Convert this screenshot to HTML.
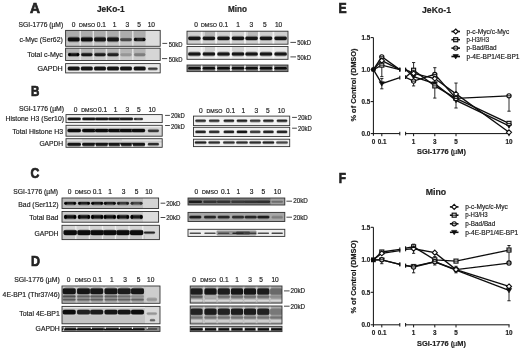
<!DOCTYPE html>
<html><head><meta charset="utf-8"><style>
html,body{margin:0;padding:0;background:#fff;width:520px;height:349px;overflow:hidden;}
svg{display:block;font-family:"Liberation Sans",sans-serif;}
</style></head><body>
<svg width="520" height="349" viewBox="0 0 520 349" font-family="Liberation Sans, sans-serif">
<defs>
<filter id="b04" x="-10%" y="-50%" width="120%" height="200%"><feGaussianBlur stdDeviation="0.4"/></filter>
<filter id="b05" x="-10%" y="-50%" width="120%" height="200%"><feGaussianBlur stdDeviation="0.5"/></filter>
<filter id="b06" x="-10%" y="-50%" width="120%" height="200%"><feGaussianBlur stdDeviation="0.6"/></filter>
<filter id="b07" x="-10%" y="-50%" width="120%" height="200%"><feGaussianBlur stdDeviation="0.7"/></filter>
<filter id="b08" x="-10%" y="-50%" width="120%" height="200%"><feGaussianBlur stdDeviation="0.8"/></filter>
<filter id="b10" x="-10%" y="-50%" width="120%" height="200%"><feGaussianBlur stdDeviation="1.0"/></filter>
<filter id="tb" x="0" y="0" width="520" height="349" filterUnits="userSpaceOnUse"><feGaussianBlur stdDeviation="0.15"/></filter>
<filter id="gb" x="0" y="0" width="520" height="349" filterUnits="userSpaceOnUse"><feGaussianBlur stdDeviation="0.3"/></filter>
</defs>
<rect width="520" height="349" fill="#fff"/>
<g filter="url(#gb)">
<rect x="65.6" y="30.4" width="94.6" height="15.899999999999999" fill="#b6b6b6"/>
<svg x="65.6" y="30.4" width="94.6" height="15.899999999999999" overflow="hidden"><g transform="translate(-65.6,-30.4)" filter="url(#b07)">
<rect x="63.599999999999994" y="28.4" width="98.6" height="19.9" fill="#b6b6b6"/>
<rect x="60" y="28" width="86" height="9" fill="#acacac"/><rect x="60" y="41" width="86" height="7" fill="#c4c4c4"/><rect x="145.6" y="28" width="16" height="20" fill="#dcdcdc"/>
<rect x="79.50" y="28.4" width="1.4" height="19.9" fill="#e4e4e4"/>
<rect x="92.60" y="28.4" width="1.4" height="19.9" fill="#e4e4e4"/>
<rect x="105.70" y="28.4" width="1.4" height="19.9" fill="#e4e4e4"/>
<rect x="118.80" y="28.4" width="1.4" height="19.9" fill="#e4e4e4"/>
<rect x="132.10" y="28.4" width="1.4" height="19.9" fill="#e4e4e4"/>
<rect x="67.60" y="36.60" width="12.20" height="5.60" rx="2.80" fill="#7e7e7e"/><rect x="67.90" y="37.50" width="11.60" height="3.80" rx="1.30" fill="#0f0f0f"/>
<rect x="80.70" y="36.60" width="12.20" height="5.60" rx="2.80" fill="#7e7e7e"/><rect x="81.00" y="37.50" width="11.60" height="3.80" rx="1.30" fill="#0f0f0f"/>
<rect x="93.90" y="36.60" width="12.20" height="5.60" rx="2.80" fill="#7f7f7f"/><rect x="94.20" y="37.50" width="11.60" height="3.80" rx="1.30" fill="#121212"/>
<rect x="106.90" y="36.60" width="12.20" height="5.60" rx="2.80" fill="#808080"/><rect x="107.20" y="37.50" width="11.60" height="3.80" rx="1.30" fill="#161616"/>
<rect x="120.00" y="37.40" width="12.00" height="4.40" rx="2.20" fill="#909090"/><rect x="120.30" y="38.30" width="11.40" height="2.60" rx="1.30" fill="#464646"/>
<rect x="133.70" y="37.00" width="12.00" height="4.80" rx="2.40" fill="#868686"/><rect x="134.00" y="37.90" width="11.40" height="3.00" rx="1.30" fill="#282828"/><ellipse cx="135.50" cy="39.40" rx="1.3" ry="1.70" fill="#0a0a0a"/><ellipse cx="143.90" cy="39.40" rx="1.3" ry="1.70" fill="#0a0a0a"/>
</g></svg>
<rect x="65.6" y="30.4" width="94.6" height="15.899999999999999" fill="none" stroke="#333" stroke-width="0.9"/>
<rect x="65.6" y="48.2" width="94.6" height="12.299999999999997" fill="#c8c8c8"/>
<svg x="65.6" y="48.2" width="94.6" height="12.299999999999997" overflow="hidden"><g transform="translate(-65.6,-48.2)" filter="url(#b07)">
<rect x="63.599999999999994" y="46.2" width="98.6" height="16.299999999999997" fill="#c8c8c8"/>
<rect x="60" y="46" width="86" height="7" fill="#b4b4b4"/><rect x="145.6" y="46" width="16" height="16" fill="#d6d6d6"/>
<rect x="79.50" y="46.2" width="1.4" height="16.299999999999997" fill="#e4e4e4"/>
<rect x="92.60" y="46.2" width="1.4" height="16.299999999999997" fill="#e4e4e4"/>
<rect x="105.70" y="46.2" width="1.4" height="16.299999999999997" fill="#e4e4e4"/>
<rect x="118.80" y="46.2" width="1.4" height="16.299999999999997" fill="#e4e4e4"/>
<rect x="132.10" y="46.2" width="1.4" height="16.299999999999997" fill="#e4e4e4"/>
<rect x="67.80" y="52.30" width="11.80" height="4.60" rx="2.30" fill="#8d8d8d"/><rect x="68.10" y="53.20" width="11.20" height="2.80" rx="1.30" fill="#191919"/><ellipse cx="69.60" cy="54.60" rx="1.3" ry="1.60" fill="#000000"/><ellipse cx="77.80" cy="54.60" rx="1.3" ry="1.60" fill="#000000"/>
<rect x="80.90" y="52.30" width="11.80" height="4.60" rx="2.30" fill="#8d8d8d"/><rect x="81.20" y="53.20" width="11.20" height="2.80" rx="1.30" fill="#191919"/>
<rect x="94.10" y="52.30" width="11.80" height="4.60" rx="2.30" fill="#8e8e8e"/><rect x="94.40" y="53.20" width="11.20" height="2.80" rx="1.30" fill="#1c1c1c"/>
<rect x="107.10" y="52.30" width="11.80" height="4.60" rx="2.30" fill="#909090"/><rect x="107.40" y="53.20" width="11.20" height="2.80" rx="1.30" fill="#202020"/>
<rect x="120.10" y="52.30" width="11.80" height="4.60" rx="2.30" fill="#b7b7b7"/><rect x="120.40" y="53.20" width="11.20" height="2.80" rx="1.30" fill="#969696"/>
<rect x="133.80" y="52.30" width="11.80" height="4.60" rx="2.30" fill="#afafaf"/><rect x="134.10" y="53.20" width="11.20" height="2.80" rx="1.30" fill="#7d7d7d"/>
</g></svg>
<rect x="65.6" y="48.2" width="94.6" height="12.299999999999997" fill="none" stroke="#333" stroke-width="0.9"/>
<rect x="65.6" y="63.6" width="94.6" height="9.300000000000004" fill="#e8e8e8"/>
<svg x="65.6" y="63.6" width="94.6" height="9.300000000000004" overflow="hidden"><g transform="translate(-65.6,-63.6)" filter="url(#b07)">
<rect x="63.599999999999994" y="61.6" width="98.6" height="13.300000000000004" fill="#e8e8e8"/>
<rect x="67.50" y="65.90" width="12.40" height="5.20" rx="2.60" fill="#a3a3a3"/><rect x="67.80" y="66.80" width="11.80" height="3.40" rx="1.30" fill="#191919"/>
<rect x="80.60" y="65.90" width="12.40" height="5.20" rx="2.60" fill="#a3a3a3"/><rect x="80.90" y="66.80" width="11.80" height="3.40" rx="1.30" fill="#191919"/>
<rect x="93.80" y="65.90" width="12.40" height="5.20" rx="2.60" fill="#a3a3a3"/><rect x="94.10" y="66.80" width="11.80" height="3.40" rx="1.30" fill="#191919"/>
<rect x="106.80" y="65.90" width="12.40" height="5.20" rx="2.60" fill="#a3a3a3"/><rect x="107.10" y="66.80" width="11.80" height="3.40" rx="1.30" fill="#191919"/>
<rect x="119.80" y="65.90" width="12.40" height="5.20" rx="2.60" fill="#a3a3a3"/><rect x="120.10" y="66.80" width="11.80" height="3.40" rx="1.30" fill="#191919"/>
<rect x="133.50" y="65.90" width="12.40" height="5.20" rx="2.60" fill="#a3a3a3"/><rect x="133.80" y="66.80" width="11.80" height="3.40" rx="1.30" fill="#191919"/>
<rect x="147.75" y="66.90" width="10.10" height="3.80" rx="1.90" fill="#aeaeae"/><rect x="148.05" y="67.80" width="9.50" height="2.00" rx="1.00" fill="#3c3c3c"/>
</g></svg>
<rect x="65.6" y="63.6" width="94.6" height="9.300000000000004" fill="none" stroke="#333" stroke-width="0.9"/>
<line x1="162.4" y1="43.4" x2="167.2" y2="43.4" stroke="#333" stroke-width="0.9"/>
<line x1="162.0" y1="58.6" x2="167.2" y2="58.6" stroke="#333" stroke-width="0.9"/>
<rect x="187.0" y="31.2" width="101.0" height="13.000000000000004" fill="#d0d0d0"/>
<svg x="187.0" y="31.2" width="101.0" height="13.000000000000004" overflow="hidden"><g transform="translate(-187.0,-31.2)" filter="url(#b07)">
<rect x="185.0" y="29.2" width="105.0" height="17.000000000000004" fill="#d0d0d0"/>
<rect x="205" y="30" width="10" height="6" fill="#b4b4b4"/><rect x="248" y="30" width="10" height="7" fill="#bababa"/>
<rect x="200.80" y="29.2" width="1.8" height="17.000000000000004" fill="#f2f2f2"/>
<rect x="215.20" y="29.2" width="1.8" height="17.000000000000004" fill="#f2f2f2"/>
<rect x="230.00" y="29.2" width="1.8" height="17.000000000000004" fill="#f2f2f2"/>
<rect x="244.10" y="29.2" width="1.8" height="17.000000000000004" fill="#f2f2f2"/>
<rect x="258.00" y="29.2" width="1.8" height="17.000000000000004" fill="#f2f2f2"/>
<rect x="272.50" y="29.2" width="1.8" height="17.000000000000004" fill="#f2f2f2"/>
<rect x="188.00" y="35.80" width="12.80" height="5.00" rx="2.50" fill="#909090"/><rect x="188.30" y="36.70" width="12.20" height="3.20" rx="1.30" fill="#121212"/>
<rect x="202.50" y="35.80" width="12.80" height="5.00" rx="2.50" fill="#909090"/><rect x="202.80" y="36.70" width="12.20" height="3.20" rx="1.30" fill="#121212"/>
<rect x="217.10" y="35.80" width="12.80" height="5.00" rx="2.50" fill="#909090"/><rect x="217.40" y="36.70" width="12.20" height="3.20" rx="1.30" fill="#121212"/>
<rect x="231.60" y="35.80" width="12.80" height="5.00" rx="2.50" fill="#909090"/><rect x="231.90" y="36.70" width="12.20" height="3.20" rx="1.30" fill="#121212"/>
<rect x="245.20" y="35.80" width="12.80" height="5.00" rx="2.50" fill="#909090"/><rect x="245.50" y="36.70" width="12.20" height="3.20" rx="1.30" fill="#121212"/>
<rect x="259.60" y="35.80" width="12.80" height="5.00" rx="2.50" fill="#909090"/><rect x="259.90" y="36.70" width="12.20" height="3.20" rx="1.30" fill="#121212"/>
<rect x="274.20" y="35.80" width="12.80" height="5.00" rx="2.50" fill="#909090"/><rect x="274.50" y="36.70" width="12.20" height="3.20" rx="1.30" fill="#121212"/>
</g></svg>
<rect x="187.0" y="31.2" width="101.0" height="13.000000000000004" fill="none" stroke="#333" stroke-width="0.9"/>
<rect x="187.0" y="46.5" width="101.0" height="12.799999999999997" fill="#e8e8e8"/>
<svg x="187.0" y="46.5" width="101.0" height="12.799999999999997" overflow="hidden"><g transform="translate(-187.0,-46.5)" filter="url(#b07)">
<rect x="185.0" y="44.5" width="105.0" height="16.799999999999997" fill="#e8e8e8"/>
<rect x="205" y="46" width="10" height="5" fill="#d0d0d0"/><rect x="232" y="46" width="12" height="5" fill="#d4d4d4"/>
<rect x="200.80" y="44.5" width="1.8" height="16.799999999999997" fill="#f6f6f6"/>
<rect x="215.20" y="44.5" width="1.8" height="16.799999999999997" fill="#f6f6f6"/>
<rect x="230.00" y="44.5" width="1.8" height="16.799999999999997" fill="#f6f6f6"/>
<rect x="244.10" y="44.5" width="1.8" height="16.799999999999997" fill="#f6f6f6"/>
<rect x="258.00" y="44.5" width="1.8" height="16.799999999999997" fill="#f6f6f6"/>
<rect x="272.50" y="44.5" width="1.8" height="16.799999999999997" fill="#f6f6f6"/>
<rect x="188.00" y="51.50" width="12.80" height="5.00" rx="2.50" fill="#a0a0a0"/><rect x="188.30" y="52.40" width="12.20" height="3.20" rx="1.30" fill="#121212"/>
<rect x="202.50" y="51.50" width="12.80" height="5.00" rx="2.50" fill="#a0a0a0"/><rect x="202.80" y="52.40" width="12.20" height="3.20" rx="1.30" fill="#121212"/>
<rect x="217.10" y="51.50" width="12.80" height="5.00" rx="2.50" fill="#a0a0a0"/><rect x="217.40" y="52.40" width="12.20" height="3.20" rx="1.30" fill="#121212"/>
<rect x="231.60" y="51.50" width="12.80" height="5.00" rx="2.50" fill="#a0a0a0"/><rect x="231.90" y="52.40" width="12.20" height="3.20" rx="1.30" fill="#121212"/>
<rect x="245.20" y="51.50" width="12.80" height="5.00" rx="2.50" fill="#a0a0a0"/><rect x="245.50" y="52.40" width="12.20" height="3.20" rx="1.30" fill="#121212"/>
<rect x="259.60" y="51.50" width="12.80" height="5.00" rx="2.50" fill="#a0a0a0"/><rect x="259.90" y="52.40" width="12.20" height="3.20" rx="1.30" fill="#121212"/>
<rect x="274.20" y="51.50" width="12.80" height="5.00" rx="2.50" fill="#a0a0a0"/><rect x="274.50" y="52.40" width="12.20" height="3.20" rx="1.30" fill="#121212"/>
</g></svg>
<rect x="187.0" y="46.5" width="101.0" height="12.799999999999997" fill="none" stroke="#333" stroke-width="0.9"/>
<rect x="187.0" y="65.0" width="101.0" height="6.599999999999994" fill="#7d7d7d"/>
<svg x="187.0" y="65.0" width="101.0" height="6.599999999999994" overflow="hidden"><g transform="translate(-187.0,-65.0)" filter="url(#b07)">
<rect x="185.0" y="63.0" width="105.0" height="10.599999999999994" fill="#7d7d7d"/>
<rect x="200.90" y="63.0" width="1.6" height="10.599999999999994" fill="#f5f5f5"/>
<rect x="215.30" y="63.0" width="1.6" height="10.599999999999994" fill="#f5f5f5"/>
<rect x="230.10" y="63.0" width="1.6" height="10.599999999999994" fill="#f5f5f5"/>
<rect x="244.20" y="63.0" width="1.6" height="10.599999999999994" fill="#f5f5f5"/>
<rect x="258.10" y="63.0" width="1.6" height="10.599999999999994" fill="#f5f5f5"/>
<rect x="272.60" y="63.0" width="1.6" height="10.599999999999994" fill="#f5f5f5"/>
<rect x="188.15" y="67.00" width="12.50" height="2.60" rx="1.30" fill="#0f0f0f"/>
<rect x="202.65" y="67.00" width="12.50" height="2.60" rx="1.30" fill="#0f0f0f"/>
<rect x="217.25" y="67.00" width="12.50" height="2.60" rx="1.30" fill="#0f0f0f"/>
<rect x="231.75" y="67.00" width="12.50" height="2.60" rx="1.30" fill="#0f0f0f"/>
<rect x="245.35" y="67.00" width="12.50" height="2.60" rx="1.30" fill="#0f0f0f"/>
<rect x="259.75" y="67.00" width="12.50" height="2.60" rx="1.30" fill="#0f0f0f"/>
<rect x="274.35" y="67.00" width="12.50" height="2.60" rx="1.30" fill="#0f0f0f"/>
</g></svg>
<rect x="187.0" y="65.0" width="101.0" height="6.599999999999994" fill="none" stroke="#333" stroke-width="0.9"/>
<line x1="290.4" y1="42.4" x2="296.0" y2="42.4" stroke="#333" stroke-width="0.9"/>
<line x1="290.4" y1="56.9" x2="296.0" y2="56.9" stroke="#333" stroke-width="0.9"/>
<rect x="66.0" y="114.6" width="96.19999999999999" height="8.0" fill="#f0f0f0"/>
<svg x="66.0" y="114.6" width="96.19999999999999" height="8.0" overflow="hidden"><g transform="translate(-66.0,-114.6)" filter="url(#b07)">
<rect x="64.0" y="112.6" width="100.19999999999999" height="12.0" fill="#f0f0f0"/>
<rect x="67.30" y="116.90" width="13.80" height="4.00" rx="2.00" fill="#a8a8a8"/><rect x="67.60" y="117.80" width="13.20" height="2.20" rx="1.10" fill="#191919"/>
<rect x="82.00" y="116.90" width="13.80" height="4.00" rx="2.00" fill="#a8a8a8"/><rect x="82.30" y="117.80" width="13.20" height="2.20" rx="1.10" fill="#191919"/>
<rect x="94.80" y="116.90" width="13.80" height="4.00" rx="2.00" fill="#a8a8a8"/><rect x="95.10" y="117.80" width="13.20" height="2.20" rx="1.10" fill="#191919"/>
<rect x="107.90" y="116.90" width="13.80" height="4.00" rx="2.00" fill="#a8a8a8"/><rect x="108.20" y="117.80" width="13.20" height="2.20" rx="1.10" fill="#191919"/>
<rect x="119.50" y="116.90" width="13.80" height="4.00" rx="2.00" fill="#aaaaaa"/><rect x="119.80" y="117.80" width="13.20" height="2.20" rx="1.10" fill="#1e1e1e"/>
<rect x="133.60" y="117.20" width="9.60" height="3.60" rx="1.80" fill="#bababa"/><rect x="133.90" y="118.10" width="9.00" height="1.80" rx="0.90" fill="#505050"/><ellipse cx="135.40" cy="119.00" rx="1.3" ry="1.10" fill="#323232"/><ellipse cx="141.40" cy="119.00" rx="1.3" ry="1.10" fill="#323232"/>
</g></svg>
<rect x="66.0" y="114.6" width="96.19999999999999" height="8.0" fill="none" stroke="#333" stroke-width="0.9"/>
<rect x="66.0" y="125.3" width="96.19999999999999" height="10.899999999999991" fill="#d4d4d4"/>
<svg x="66.0" y="125.3" width="96.19999999999999" height="10.899999999999991" overflow="hidden"><g transform="translate(-66.0,-125.3)" filter="url(#b07)">
<rect x="64.0" y="123.3" width="100.19999999999999" height="14.899999999999991" fill="#d4d4d4"/>
<rect x="60" y="124" width="110" height="3.2" fill="#eeeeee"/>
<rect x="67.20" y="128.20" width="14.00" height="4.80" rx="2.40" fill="#929292"/><rect x="67.50" y="129.10" width="13.40" height="3.00" rx="1.30" fill="#0f0f0f"/>
<rect x="81.90" y="128.20" width="14.00" height="4.80" rx="2.40" fill="#929292"/><rect x="82.20" y="129.10" width="13.40" height="3.00" rx="1.30" fill="#0f0f0f"/>
<rect x="94.70" y="128.20" width="14.00" height="4.80" rx="2.40" fill="#929292"/><rect x="95.00" y="129.10" width="13.40" height="3.00" rx="1.30" fill="#0f0f0f"/>
<rect x="107.80" y="128.20" width="14.00" height="4.80" rx="2.40" fill="#929292"/><rect x="108.10" y="129.10" width="13.40" height="3.00" rx="1.30" fill="#0f0f0f"/>
<rect x="119.40" y="128.20" width="14.00" height="4.80" rx="2.40" fill="#929292"/><rect x="119.70" y="129.10" width="13.40" height="3.00" rx="1.30" fill="#0f0f0f"/>
<rect x="131.40" y="128.20" width="14.00" height="4.80" rx="2.40" fill="#929292"/><rect x="131.70" y="129.10" width="13.40" height="3.00" rx="1.30" fill="#0f0f0f"/>
<rect x="147.60" y="128.80" width="11.60" height="4.00" rx="2.00" fill="#9f9f9f"/><rect x="147.90" y="129.70" width="11.00" height="2.20" rx="1.10" fill="#373737"/>
</g></svg>
<rect x="66.0" y="125.3" width="96.19999999999999" height="10.899999999999991" fill="none" stroke="#333" stroke-width="0.9"/>
<rect x="66.0" y="138.7" width="96.19999999999999" height="8.600000000000023" fill="#e1e1e1"/>
<svg x="66.0" y="138.7" width="96.19999999999999" height="8.600000000000023" overflow="hidden"><g transform="translate(-66.0,-138.7)" filter="url(#b07)">
<rect x="64.0" y="136.7" width="100.19999999999999" height="12.600000000000023" fill="#e1e1e1"/>
<rect x="60" y="141" width="110" height="1.6" fill="#cdcdcd"/><rect x="82" y="139" width="40" height="3" fill="#d0d0d0"/>
<rect x="67.20" y="142.10" width="14.00" height="4.60" rx="2.30" fill="#9c9c9c"/><rect x="67.50" y="143.00" width="13.40" height="2.80" rx="1.30" fill="#141414"/>
<rect x="81.90" y="142.10" width="14.00" height="4.60" rx="2.30" fill="#9c9c9c"/><rect x="82.20" y="143.00" width="13.40" height="2.80" rx="1.30" fill="#141414"/>
<rect x="94.70" y="142.10" width="14.00" height="4.60" rx="2.30" fill="#9c9c9c"/><rect x="95.00" y="143.00" width="13.40" height="2.80" rx="1.30" fill="#141414"/>
<rect x="107.80" y="142.10" width="14.00" height="4.60" rx="2.30" fill="#9c9c9c"/><rect x="108.10" y="143.00" width="13.40" height="2.80" rx="1.30" fill="#141414"/>
<rect x="119.40" y="142.10" width="14.00" height="4.60" rx="2.30" fill="#9c9c9c"/><rect x="119.70" y="143.00" width="13.40" height="2.80" rx="1.30" fill="#141414"/>
<rect x="131.40" y="142.10" width="14.00" height="4.60" rx="2.30" fill="#9c9c9c"/><rect x="131.70" y="143.00" width="13.40" height="2.80" rx="1.30" fill="#141414"/>
<rect x="147.60" y="142.20" width="11.60" height="4.00" rx="2.00" fill="#a5a5a5"/><rect x="147.90" y="143.10" width="11.00" height="2.20" rx="1.10" fill="#2d2d2d"/>
<path d="M80.3,148 L81.6,143.5 L82.9,148 Z" fill="#f6f6f6"/><path d="M93.9,148 L95.2,143.5 L96.5,148 Z" fill="#f6f6f6"/><path d="M106.9,148 L108.2,143.5 L109.5,148 Z" fill="#f6f6f6"/><path d="M119.3,148 L120.6,143.5 L121.9,148 Z" fill="#f6f6f6"/><path d="M131.1,148 L132.4,143.5 L133.7,148 Z" fill="#f6f6f6"/><path d="M144.6,148 L145.9,143.5 L147.2,148 Z" fill="#f6f6f6"/>
</g></svg>
<rect x="66.0" y="138.7" width="96.19999999999999" height="8.600000000000023" fill="none" stroke="#333" stroke-width="0.9"/>
<line x1="165.1" y1="115.4" x2="169.9" y2="115.4" stroke="#333" stroke-width="0.9"/>
<line x1="165.1" y1="125.5" x2="169.9" y2="125.5" stroke="#333" stroke-width="0.9"/>
<rect x="193.5" y="116.1" width="96.19999999999999" height="9.5" fill="#f2f2f2"/>
<svg x="193.5" y="116.1" width="96.19999999999999" height="9.5" overflow="hidden"><g transform="translate(-193.5,-116.1)" filter="url(#b07)">
<rect x="191.5" y="114.1" width="100.19999999999999" height="13.5" fill="#f2f2f2"/>
<rect x="195.05" y="118.95" width="11.10" height="3.70" rx="1.85" fill="#b0b0b0"/><rect x="195.35" y="119.85" width="10.50" height="1.90" rx="0.95" fill="#2d2d2d"/>
<rect x="208.65" y="118.95" width="11.10" height="3.70" rx="1.85" fill="#b2b2b2"/><rect x="208.95" y="119.85" width="10.50" height="1.90" rx="0.95" fill="#323232"/>
<rect x="223.35" y="118.95" width="11.10" height="3.70" rx="1.85" fill="#adadad"/><rect x="223.65" y="119.85" width="10.50" height="1.90" rx="0.95" fill="#232323"/>
<rect x="236.45" y="118.95" width="11.10" height="3.70" rx="1.85" fill="#adadad"/><rect x="236.75" y="119.85" width="10.50" height="1.90" rx="0.95" fill="#232323"/>
<rect x="249.65" y="118.95" width="11.10" height="3.70" rx="1.85" fill="#b5b5b5"/><rect x="249.95" y="119.85" width="10.50" height="1.90" rx="0.95" fill="#3c3c3c"/>
<rect x="262.85" y="118.95" width="11.10" height="3.70" rx="1.85" fill="#aeaeae"/><rect x="263.15" y="119.85" width="10.50" height="1.90" rx="0.95" fill="#282828"/>
<rect x="276.45" y="118.95" width="11.10" height="3.70" rx="1.85" fill="#aeaeae"/><rect x="276.75" y="119.85" width="10.50" height="1.90" rx="0.95" fill="#282828"/>
</g></svg>
<rect x="193.5" y="116.1" width="96.19999999999999" height="9.5" fill="none" stroke="#333" stroke-width="0.9"/>
<rect x="193.5" y="127.3" width="96.19999999999999" height="9.200000000000003" fill="#f0f0f0"/>
<svg x="193.5" y="127.3" width="96.19999999999999" height="9.200000000000003" overflow="hidden"><g transform="translate(-193.5,-127.3)" filter="url(#b07)">
<rect x="191.5" y="125.3" width="100.19999999999999" height="13.200000000000003" fill="#f0f0f0"/>
<rect x="195.05" y="129.95" width="11.10" height="3.90" rx="1.95" fill="#adadad"/><rect x="195.35" y="130.85" width="10.50" height="2.10" rx="1.05" fill="#282828"/>
<rect x="208.65" y="129.95" width="11.10" height="3.90" rx="1.95" fill="#b0b0b0"/><rect x="208.95" y="130.85" width="10.50" height="2.10" rx="1.05" fill="#323232"/>
<rect x="223.35" y="129.95" width="11.10" height="3.90" rx="1.95" fill="#ababab"/><rect x="223.65" y="130.85" width="10.50" height="2.10" rx="1.05" fill="#232323"/>
<rect x="236.45" y="129.95" width="11.10" height="3.90" rx="1.95" fill="#a8a8a8"/><rect x="236.75" y="130.85" width="10.50" height="2.10" rx="1.05" fill="#191919"/>
<rect x="249.65" y="129.95" width="11.10" height="3.90" rx="1.95" fill="#b5b5b5"/><rect x="249.95" y="130.85" width="10.50" height="2.10" rx="1.05" fill="#414141"/>
<rect x="262.85" y="129.95" width="11.10" height="3.90" rx="1.95" fill="#adadad"/><rect x="263.15" y="130.85" width="10.50" height="2.10" rx="1.05" fill="#282828"/>
<rect x="276.45" y="129.95" width="11.10" height="3.90" rx="1.95" fill="#adadad"/><rect x="276.75" y="130.85" width="10.50" height="2.10" rx="1.05" fill="#282828"/>
</g></svg>
<rect x="193.5" y="127.3" width="96.19999999999999" height="9.200000000000003" fill="none" stroke="#333" stroke-width="0.9"/>
<rect x="193.5" y="139.2" width="96.19999999999999" height="7.400000000000006" fill="#f0f0f0"/>
<svg x="193.5" y="139.2" width="96.19999999999999" height="7.400000000000006" overflow="hidden"><g transform="translate(-193.5,-139.2)" filter="url(#b07)">
<rect x="191.5" y="137.2" width="100.19999999999999" height="11.400000000000006" fill="#f0f0f0"/>
<rect x="194.55" y="140.65" width="12.10" height="3.70" rx="1.85" fill="#ababab"/><rect x="194.85" y="141.55" width="11.50" height="1.90" rx="0.95" fill="#232323"/>
<rect x="208.15" y="140.65" width="12.10" height="3.70" rx="1.85" fill="#afafaf"/><rect x="208.45" y="141.55" width="11.50" height="1.90" rx="0.95" fill="#2d2d2d"/>
<rect x="222.85" y="140.65" width="12.10" height="3.70" rx="1.85" fill="#b0b0b0"/><rect x="223.15" y="141.55" width="11.50" height="1.90" rx="0.95" fill="#323232"/>
<rect x="235.95" y="140.65" width="12.10" height="3.70" rx="1.85" fill="#afafaf"/><rect x="236.25" y="141.55" width="11.50" height="1.90" rx="0.95" fill="#2d2d2d"/>
<rect x="249.15" y="140.65" width="12.10" height="3.70" rx="1.85" fill="#afafaf"/><rect x="249.45" y="141.55" width="11.50" height="1.90" rx="0.95" fill="#2d2d2d"/>
<rect x="262.35" y="140.65" width="12.10" height="3.70" rx="1.85" fill="#ababab"/><rect x="262.65" y="141.55" width="11.50" height="1.90" rx="0.95" fill="#232323"/>
<rect x="275.95" y="140.65" width="12.10" height="3.70" rx="1.85" fill="#b7b7b7"/><rect x="276.25" y="141.55" width="11.50" height="1.90" rx="0.95" fill="#464646"/>
</g></svg>
<rect x="193.5" y="139.2" width="96.19999999999999" height="7.400000000000006" fill="none" stroke="#333" stroke-width="0.9"/>
<line x1="292.1" y1="117.4" x2="296.9" y2="117.4" stroke="#333" stroke-width="0.9"/>
<line x1="292.1" y1="128.2" x2="296.9" y2="128.2" stroke="#333" stroke-width="0.9"/>
<rect x="62.0" y="198.0" width="96.6" height="10.5" fill="#bcbcbc"/>
<svg x="62.0" y="198.0" width="96.6" height="10.5" overflow="hidden"><g transform="translate(-62.0,-198.0)" filter="url(#b07)">
<rect x="60.0" y="196.0" width="100.6" height="14.5" fill="#bcbcbc"/>
<rect x="143" y="196" width="20" height="15" fill="#d4d4d4"/>
<rect x="64.00" y="201.20" width="12.40" height="4.20" rx="2.10" fill="#898989"/><rect x="64.30" y="202.10" width="11.80" height="2.40" rx="1.20" fill="#232323"/><ellipse cx="65.80" cy="203.30" rx="1.3" ry="1.40" fill="#050505"/><ellipse cx="74.60" cy="203.30" rx="1.3" ry="1.40" fill="#050505"/>
<rect x="77.80" y="201.20" width="12.40" height="4.20" rx="2.10" fill="#898989"/><rect x="78.10" y="202.10" width="11.80" height="2.40" rx="1.20" fill="#232323"/><ellipse cx="79.60" cy="203.30" rx="1.3" ry="1.40" fill="#050505"/><ellipse cx="88.40" cy="203.30" rx="1.3" ry="1.40" fill="#050505"/>
<rect x="91.00" y="201.20" width="12.40" height="4.20" rx="2.10" fill="#898989"/><rect x="91.30" y="202.10" width="11.80" height="2.40" rx="1.20" fill="#232323"/><ellipse cx="92.80" cy="203.30" rx="1.3" ry="1.40" fill="#050505"/><ellipse cx="101.60" cy="203.30" rx="1.3" ry="1.40" fill="#050505"/>
<rect x="103.60" y="201.20" width="12.40" height="4.20" rx="2.10" fill="#8a8a8a"/><rect x="103.90" y="202.10" width="11.80" height="2.40" rx="1.20" fill="#282828"/><ellipse cx="105.40" cy="203.30" rx="1.3" ry="1.40" fill="#0a0a0a"/><ellipse cx="114.20" cy="203.30" rx="1.3" ry="1.40" fill="#0a0a0a"/>
<rect x="116.80" y="201.20" width="12.40" height="4.20" rx="2.10" fill="#919191"/><rect x="117.10" y="202.10" width="11.80" height="2.40" rx="1.20" fill="#3c3c3c"/><ellipse cx="118.60" cy="203.30" rx="1.3" ry="1.40" fill="#1e1e1e"/><ellipse cx="127.40" cy="203.30" rx="1.3" ry="1.40" fill="#1e1e1e"/>
<rect x="130.40" y="201.20" width="12.40" height="4.20" rx="2.10" fill="#969696"/><rect x="130.70" y="202.10" width="11.80" height="2.40" rx="1.20" fill="#4b4b4b"/><ellipse cx="132.20" cy="203.30" rx="1.3" ry="1.40" fill="#2d2d2d"/><ellipse cx="141.00" cy="203.30" rx="1.3" ry="1.40" fill="#2d2d2d"/>
</g></svg>
<rect x="62.0" y="198.0" width="96.6" height="10.5" fill="none" stroke="#333" stroke-width="0.9"/>
<rect x="62.0" y="211.5" width="96.6" height="10.699999999999989" fill="#cacaca"/>
<svg x="62.0" y="211.5" width="96.6" height="10.699999999999989" overflow="hidden"><g transform="translate(-62.0,-211.5)" filter="url(#b07)">
<rect x="60.0" y="209.5" width="100.6" height="14.699999999999989" fill="#cacaca"/>
<rect x="143" y="209" width="20" height="15" fill="#dcdcdc"/>
<rect x="63.80" y="214.30" width="12.80" height="5.20" rx="2.60" fill="#8d8d8d"/><rect x="64.10" y="215.20" width="12.20" height="3.40" rx="1.30" fill="#141414"/><ellipse cx="65.60" cy="216.90" rx="1.3" ry="1.90" fill="#000000"/><ellipse cx="74.80" cy="216.90" rx="1.3" ry="1.90" fill="#000000"/>
<rect x="77.60" y="214.30" width="12.80" height="5.20" rx="2.60" fill="#8d8d8d"/><rect x="77.90" y="215.20" width="12.20" height="3.40" rx="1.30" fill="#141414"/><ellipse cx="79.40" cy="216.90" rx="1.3" ry="1.90" fill="#000000"/><ellipse cx="88.60" cy="216.90" rx="1.3" ry="1.90" fill="#000000"/>
<rect x="90.80" y="214.30" width="12.80" height="5.20" rx="2.60" fill="#8d8d8d"/><rect x="91.10" y="215.20" width="12.20" height="3.40" rx="1.30" fill="#141414"/><ellipse cx="92.60" cy="216.90" rx="1.3" ry="1.90" fill="#000000"/><ellipse cx="101.80" cy="216.90" rx="1.3" ry="1.90" fill="#000000"/>
<rect x="103.40" y="214.30" width="12.80" height="5.20" rx="2.60" fill="#8f8f8f"/><rect x="103.70" y="215.20" width="12.20" height="3.40" rx="1.30" fill="#191919"/><ellipse cx="105.20" cy="216.90" rx="1.3" ry="1.90" fill="#000000"/><ellipse cx="114.40" cy="216.90" rx="1.3" ry="1.90" fill="#000000"/>
<rect x="116.60" y="214.30" width="12.80" height="5.20" rx="2.60" fill="#909090"/><rect x="116.90" y="215.20" width="12.20" height="3.40" rx="1.30" fill="#1e1e1e"/><ellipse cx="118.40" cy="216.90" rx="1.3" ry="1.90" fill="#000000"/><ellipse cx="127.60" cy="216.90" rx="1.3" ry="1.90" fill="#000000"/>
<rect x="130.20" y="214.30" width="12.80" height="5.20" rx="2.60" fill="#909090"/><rect x="130.50" y="215.20" width="12.20" height="3.40" rx="1.30" fill="#1e1e1e"/><ellipse cx="132.00" cy="216.90" rx="1.3" ry="1.90" fill="#000000"/><ellipse cx="141.20" cy="216.90" rx="1.3" ry="1.90" fill="#000000"/>
</g></svg>
<rect x="62.0" y="211.5" width="96.6" height="10.699999999999989" fill="none" stroke="#333" stroke-width="0.9"/>
<rect x="62.0" y="225.3" width="97.4" height="14.299999999999983" fill="#d4d4d4"/>
<svg x="62.0" y="225.3" width="97.4" height="14.299999999999983" overflow="hidden"><g transform="translate(-62.0,-225.3)" filter="url(#b07)">
<rect x="60.0" y="223.3" width="101.4" height="18.299999999999983" fill="#d4d4d4"/>
<rect x="60" y="235" width="85" height="6" fill="#c6c6c6"/>
<rect x="75.10" y="223.3" width="1.4" height="18.299999999999983" fill="#ececec"/>
<rect x="88.70" y="223.3" width="1.4" height="18.299999999999983" fill="#ececec"/>
<rect x="101.80" y="223.3" width="1.4" height="18.299999999999983" fill="#ececec"/>
<rect x="114.80" y="223.3" width="1.4" height="18.299999999999983" fill="#ececec"/>
<rect x="128.30" y="223.3" width="1.4" height="18.299999999999983" fill="#ececec"/>
<rect x="142.10" y="223.3" width="1.4" height="18.299999999999983" fill="#ececec"/>
<rect x="63.30" y="229.40" width="13.80" height="6.40" rx="3.20" fill="#919191"/><rect x="63.60" y="230.30" width="13.20" height="4.60" rx="1.30" fill="#0c0c0c"/>
<rect x="77.10" y="229.40" width="13.80" height="6.40" rx="3.20" fill="#919191"/><rect x="77.40" y="230.30" width="13.20" height="4.60" rx="1.30" fill="#0c0c0c"/>
<rect x="90.30" y="229.40" width="13.80" height="6.40" rx="3.20" fill="#919191"/><rect x="90.60" y="230.30" width="13.20" height="4.60" rx="1.30" fill="#0c0c0c"/>
<rect x="102.90" y="229.40" width="13.80" height="6.40" rx="3.20" fill="#919191"/><rect x="103.20" y="230.30" width="13.20" height="4.60" rx="1.30" fill="#0c0c0c"/>
<rect x="116.10" y="229.40" width="13.80" height="6.40" rx="3.20" fill="#929292"/><rect x="116.40" y="230.30" width="13.20" height="4.60" rx="1.30" fill="#0f0f0f"/>
<rect x="129.70" y="229.40" width="13.80" height="6.40" rx="3.20" fill="#929292"/><rect x="130.00" y="230.30" width="13.20" height="4.60" rx="1.30" fill="#0f0f0f"/>
<rect x="143.70" y="230.90" width="11.60" height="3.40" rx="1.70" fill="#9a9a9a"/><rect x="144.00" y="231.80" width="11.00" height="1.60" rx="0.80" fill="#282828"/>
</g></svg>
<rect x="62.0" y="225.3" width="97.4" height="14.299999999999983" fill="none" stroke="#333" stroke-width="0.9"/>
<line x1="160.6" y1="203.2" x2="165.3" y2="203.2" stroke="#333" stroke-width="0.9"/>
<line x1="160.6" y1="217.5" x2="165.3" y2="217.5" stroke="#333" stroke-width="0.9"/>
<rect x="188.0" y="198.0" width="96.80000000000001" height="7.0" fill="#767676"/>
<svg x="188.0" y="198.0" width="96.80000000000001" height="7.0" overflow="hidden"><g transform="translate(-188.0,-198.0)" filter="url(#b07)">
<rect x="186.0" y="196.0" width="100.80000000000001" height="11.0" fill="#767676"/>
<rect x="270.5" y="196" width="16" height="11" fill="#a0a0a0"/>
<rect x="188.55" y="200.50" width="13.50" height="2.40" rx="1.20" fill="#1e1e1e"/>
<rect x="203.25" y="200.50" width="13.50" height="2.40" rx="1.20" fill="#323232"/>
<rect x="216.95" y="200.50" width="13.50" height="2.40" rx="1.20" fill="#323232"/>
<rect x="231.25" y="200.50" width="13.50" height="2.40" rx="1.20" fill="#373737"/>
<rect x="243.95" y="200.50" width="13.50" height="2.40" rx="1.20" fill="#323232"/>
<rect x="256.65" y="200.50" width="13.50" height="2.40" rx="1.20" fill="#2d2d2d"/>
<rect x="271.45" y="200.80" width="11.50" height="2.00" rx="1.00" fill="#6e6e6e"/>
</g></svg>
<rect x="188.0" y="198.0" width="96.80000000000001" height="7.0" fill="none" stroke="#333" stroke-width="0.9"/>
<rect x="188.0" y="212.4" width="96.80000000000001" height="9.099999999999994" fill="#a8a8a8"/>
<svg x="188.0" y="212.4" width="96.80000000000001" height="9.099999999999994" overflow="hidden"><g transform="translate(-188.0,-212.4)" filter="url(#b07)">
<rect x="186.0" y="210.4" width="100.80000000000001" height="13.099999999999994" fill="#a8a8a8"/>
<rect x="189.00" y="215.00" width="12.60" height="4.20" rx="2.10" fill="#7a7a7a"/><rect x="189.30" y="215.90" width="12.00" height="2.40" rx="1.20" fill="#1e1e1e"/>
<rect x="203.70" y="215.00" width="12.60" height="4.20" rx="2.10" fill="#7d7d7d"/><rect x="204.00" y="215.90" width="12.00" height="2.40" rx="1.20" fill="#282828"/>
<rect x="217.40" y="215.00" width="12.60" height="4.20" rx="2.10" fill="#7d7d7d"/><rect x="217.70" y="215.90" width="12.00" height="2.40" rx="1.20" fill="#282828"/>
<rect x="231.70" y="215.00" width="12.60" height="4.20" rx="2.10" fill="#7f7f7f"/><rect x="232.00" y="215.90" width="12.00" height="2.40" rx="1.20" fill="#2d2d2d"/>
<rect x="244.40" y="215.00" width="12.60" height="4.20" rx="2.10" fill="#7d7d7d"/><rect x="244.70" y="215.90" width="12.00" height="2.40" rx="1.20" fill="#282828"/>
<rect x="257.10" y="215.00" width="12.60" height="4.20" rx="2.10" fill="#7a7a7a"/><rect x="257.40" y="215.90" width="12.00" height="2.40" rx="1.20" fill="#1e1e1e"/>
<rect x="271.40" y="215.30" width="11.60" height="3.80" rx="1.90" fill="#999999"/><rect x="271.70" y="216.20" width="11.00" height="2.00" rx="1.00" fill="#7d7d7d"/>
</g></svg>
<rect x="188.0" y="212.4" width="96.80000000000001" height="9.099999999999994" fill="none" stroke="#333" stroke-width="0.9"/>
<rect x="188.0" y="229.3" width="96.80000000000001" height="7.099999999999994" fill="#eeeeee"/>
<svg x="188.0" y="229.3" width="96.80000000000001" height="7.099999999999994" overflow="hidden"><g transform="translate(-188.0,-229.3)" filter="url(#b07)">
<rect x="186.0" y="227.3" width="100.80000000000001" height="11.099999999999994" fill="#eeeeee"/>
<rect x="216.50" y="230.40" width="40.00" height="5.00" rx="1.30" fill="#969696"/>
<rect x="236.00" y="231.50" width="14.00" height="3.00" rx="1.30" fill="#464646"/>
<rect x="189.55" y="232.40" width="11.50" height="1.60" rx="0.80" fill="#505050"/>
<rect x="204.25" y="232.40" width="11.50" height="1.60" rx="0.80" fill="#505050"/>
<rect x="217.95" y="232.40" width="11.50" height="1.60" rx="0.80" fill="#464646"/>
<rect x="232.25" y="232.40" width="11.50" height="1.60" rx="0.80" fill="#282828"/>
<rect x="244.95" y="232.40" width="11.50" height="1.60" rx="0.80" fill="#3c3c3c"/>
<rect x="257.65" y="232.40" width="11.50" height="1.60" rx="0.80" fill="#505050"/>
<rect x="271.45" y="232.40" width="11.50" height="1.60" rx="0.80" fill="#464646"/>
</g></svg>
<rect x="188.0" y="229.3" width="96.80000000000001" height="7.099999999999994" fill="none" stroke="#333" stroke-width="0.9"/>
<line x1="286.4" y1="201.2" x2="292.0" y2="201.2" stroke="#333" stroke-width="0.9"/>
<line x1="286.4" y1="217.2" x2="292.0" y2="217.2" stroke="#333" stroke-width="0.9"/>
<rect x="62.0" y="286.0" width="98.0" height="17.30000000000001" fill="#b2b2b2"/>
<svg x="62.0" y="286.0" width="98.0" height="17.30000000000001" overflow="hidden"><g transform="translate(-62.0,-286.0)" filter="url(#b07)">
<rect x="60.0" y="284.0" width="102.0" height="21.30000000000001" fill="#b2b2b2"/>
<rect x="60" y="286" width="100" height="1.6" fill="#e0e0e0"/><rect x="145" y="284" width="20" height="22" fill="#cdcdcd"/>
<rect x="75.60" y="284.0" width="1.8" height="21.30000000000001" fill="#c8c8c8"/>
<rect x="89.60" y="284.0" width="1.8" height="21.30000000000001" fill="#c8c8c8"/>
<rect x="103.10" y="284.0" width="1.8" height="21.30000000000001" fill="#c8c8c8"/>
<rect x="116.90" y="284.0" width="1.8" height="21.30000000000001" fill="#c8c8c8"/>
<rect x="130.30" y="284.0" width="1.8" height="21.30000000000001" fill="#c8c8c8"/>
<rect x="143.90" y="284.0" width="1.8" height="21.30000000000001" fill="#c8c8c8"/>
<rect x="62.50" y="287.50" width="13.40" height="7.40" rx="3.70" fill="#7c7c7c"/><rect x="62.80" y="288.40" width="12.80" height="5.60" rx="1.30" fill="#121212"/>
<rect x="76.80" y="287.50" width="13.40" height="7.40" rx="3.70" fill="#7f7f7f"/><rect x="77.10" y="288.40" width="12.80" height="5.60" rx="1.30" fill="#191919"/>
<rect x="90.00" y="287.50" width="13.40" height="7.40" rx="3.70" fill="#7f7f7f"/><rect x="90.30" y="288.40" width="12.80" height="5.60" rx="1.30" fill="#191919"/>
<rect x="104.30" y="287.50" width="13.40" height="7.40" rx="3.70" fill="#7d7d7d"/><rect x="104.60" y="288.40" width="12.80" height="5.60" rx="1.30" fill="#141414"/>
<rect x="117.50" y="287.50" width="13.40" height="7.40" rx="3.70" fill="#808080"/><rect x="117.80" y="288.40" width="12.80" height="5.60" rx="1.30" fill="#1c1c1c"/>
<rect x="130.80" y="287.50" width="13.40" height="7.40" rx="3.70" fill="#7d7d7d"/><rect x="131.10" y="288.40" width="12.80" height="5.60" rx="1.30" fill="#141414"/>
<rect x="62.65" y="294.70" width="13.10" height="3.60" rx="1.80" fill="#919191"/><rect x="62.95" y="295.60" width="12.50" height="1.80" rx="0.90" fill="#505050"/>
<rect x="76.95" y="294.70" width="13.10" height="3.60" rx="1.80" fill="#989898"/><rect x="77.25" y="295.60" width="12.50" height="1.80" rx="0.90" fill="#646464"/>
<rect x="90.15" y="294.70" width="13.10" height="3.60" rx="1.80" fill="#969696"/><rect x="90.45" y="295.60" width="12.50" height="1.80" rx="0.90" fill="#5f5f5f"/>
<rect x="104.45" y="294.70" width="13.10" height="3.60" rx="1.80" fill="#969696"/><rect x="104.75" y="295.60" width="12.50" height="1.80" rx="0.90" fill="#5f5f5f"/>
<rect x="117.65" y="294.70" width="13.10" height="3.60" rx="1.80" fill="#9b9b9b"/><rect x="117.95" y="295.60" width="12.50" height="1.80" rx="0.90" fill="#6e6e6e"/>
<rect x="130.95" y="294.70" width="13.10" height="3.60" rx="1.80" fill="#a5a5a5"/><rect x="131.25" y="295.60" width="12.50" height="1.80" rx="0.90" fill="#8c8c8c"/>
<rect x="62.65" y="297.80" width="13.10" height="3.60" rx="1.80" fill="#949494"/><rect x="62.95" y="298.70" width="12.50" height="1.80" rx="0.90" fill="#5a5a5a"/>
<rect x="76.95" y="297.80" width="13.10" height="3.60" rx="1.80" fill="#989898"/><rect x="77.25" y="298.70" width="12.50" height="1.80" rx="0.90" fill="#646464"/>
<rect x="90.15" y="297.80" width="13.10" height="3.60" rx="1.80" fill="#969696"/><rect x="90.45" y="298.70" width="12.50" height="1.80" rx="0.90" fill="#5f5f5f"/>
<rect x="104.45" y="297.80" width="13.10" height="3.60" rx="1.80" fill="#989898"/><rect x="104.75" y="298.70" width="12.50" height="1.80" rx="0.90" fill="#646464"/>
<rect x="117.65" y="297.80" width="13.10" height="3.60" rx="1.80" fill="#989898"/><rect x="117.95" y="298.70" width="12.50" height="1.80" rx="0.90" fill="#646464"/>
<rect x="130.95" y="297.80" width="13.10" height="3.60" rx="1.80" fill="#989898"/><rect x="131.25" y="298.70" width="12.50" height="1.80" rx="0.90" fill="#646464"/>
<rect x="146.50" y="297.60" width="10.60" height="3.80" rx="1.90" fill="#a8a8a8"/><rect x="146.80" y="298.50" width="10.00" height="2.00" rx="1.00" fill="#969696"/>
</g></svg>
<rect x="62.0" y="286.0" width="98.0" height="17.30000000000001" fill="none" stroke="#333" stroke-width="0.9"/>
<rect x="62.0" y="306.4" width="98.0" height="17.400000000000034" fill="#c8c8c8"/>
<svg x="62.0" y="306.4" width="98.0" height="17.400000000000034" overflow="hidden"><g transform="translate(-62.0,-306.4)" filter="url(#b07)">
<rect x="60.0" y="304.4" width="102.0" height="21.400000000000034" fill="#c8c8c8"/>
<rect x="60" y="306" width="100" height="2.2" fill="#e6e6e6"/><rect x="60" y="316" width="86" height="8" fill="#c4c4c4"/><rect x="145" y="304" width="20" height="22" fill="#d8d8d8"/>
<rect x="62.50" y="309.10" width="13.40" height="6.00" rx="3.00" fill="#8a8a8a"/><rect x="62.80" y="310.00" width="12.80" height="4.20" rx="1.30" fill="#0f0f0f"/>
<rect x="76.80" y="309.10" width="13.40" height="6.00" rx="3.00" fill="#909090"/><rect x="77.10" y="310.00" width="12.80" height="4.20" rx="1.30" fill="#202020"/>
<rect x="90.00" y="309.10" width="13.40" height="6.00" rx="3.00" fill="#8e8e8e"/><rect x="90.30" y="310.00" width="12.80" height="4.20" rx="1.30" fill="#1c1c1c"/>
<rect x="104.30" y="309.10" width="13.40" height="6.00" rx="3.00" fill="#8c8c8c"/><rect x="104.60" y="310.00" width="12.80" height="4.20" rx="1.30" fill="#141414"/>
<rect x="117.50" y="309.10" width="13.40" height="6.00" rx="3.00" fill="#8c8c8c"/><rect x="117.80" y="310.00" width="12.80" height="4.20" rx="1.30" fill="#141414"/>
<rect x="130.80" y="309.10" width="13.40" height="6.00" rx="3.00" fill="#8a8a8a"/><rect x="131.10" y="310.00" width="12.80" height="4.20" rx="1.30" fill="#0f0f0f"/>
<rect x="146.50" y="311.90" width="10.60" height="3.40" rx="1.70" fill="#b7b7b7"/><rect x="146.80" y="312.80" width="10.00" height="1.60" rx="0.80" fill="#969696"/>
<rect x="149.70" y="318.70" width="5.60" height="3.00" rx="1.50" fill="#a0a0a0"/><rect x="150.00" y="319.60" width="5.00" height="1.20" rx="0.60" fill="#505050"/>
</g></svg>
<rect x="62.0" y="306.4" width="98.0" height="17.400000000000034" fill="none" stroke="#333" stroke-width="0.9"/>
<rect x="62.0" y="326.6" width="98.0" height="4.7999999999999545" fill="#919191"/>
<svg x="62.0" y="326.6" width="98.0" height="4.7999999999999545" overflow="hidden"><g transform="translate(-62.0,-326.6)" filter="url(#b04)">
<rect x="60.0" y="324.6" width="102.0" height="8.799999999999955" fill="#919191"/>
<rect x="61.95" y="328.15" width="14.50" height="2.10" rx="1.05" fill="#0a0a0a"/>
<rect x="76.25" y="328.15" width="14.50" height="2.10" rx="1.05" fill="#0a0a0a"/>
<rect x="89.45" y="328.15" width="14.50" height="2.10" rx="1.05" fill="#0a0a0a"/>
<rect x="103.75" y="328.15" width="14.50" height="2.10" rx="1.05" fill="#0a0a0a"/>
<rect x="116.95" y="328.15" width="14.50" height="2.10" rx="1.05" fill="#0a0a0a"/>
<rect x="130.25" y="328.15" width="14.50" height="2.10" rx="1.05" fill="#0a0a0a"/>
<rect x="146.30" y="328.30" width="11.00" height="1.40" rx="0.70" fill="#3c3c3c"/>
<rect x="76.3" y="326" width="1.0" height="3.0" fill="#f4f4f4"/><rect x="90.8" y="326" width="1.0" height="3.0" fill="#f4f4f4"/><rect x="104.7" y="326" width="1.0" height="3.0" fill="#f4f4f4"/><rect x="118.8" y="326" width="1.0" height="3.0" fill="#f4f4f4"/><rect x="131.9" y="326" width="1.0" height="3.0" fill="#f4f4f4"/><rect x="146.7" y="326" width="1.0" height="3.0" fill="#f4f4f4"/><path d="M63.2,331 L64.6,327" stroke="#f4f4f4" stroke-width="0.9" fill="none"/>
</g></svg>
<rect x="62.0" y="326.6" width="98.0" height="4.7999999999999545" fill="none" stroke="#333" stroke-width="0.9"/>
<rect x="190.2" y="286.0" width="91.80000000000001" height="17.100000000000023" fill="#a5a5a5"/>
<svg x="190.2" y="286.0" width="91.80000000000001" height="17.100000000000023" overflow="hidden"><g transform="translate(-190.2,-286.0)" filter="url(#b07)">
<rect x="188.2" y="284.0" width="95.80000000000001" height="21.100000000000023" fill="#a5a5a5"/>
<rect x="202.90" y="284.0" width="2.0" height="21.100000000000023" fill="#c8c8c8"/>
<rect x="216.30" y="284.0" width="2.0" height="21.100000000000023" fill="#c8c8c8"/>
<rect x="229.30" y="284.0" width="2.0" height="21.100000000000023" fill="#c8c8c8"/>
<rect x="242.70" y="284.0" width="2.0" height="21.100000000000023" fill="#c8c8c8"/>
<rect x="255.60" y="284.0" width="2.0" height="21.100000000000023" fill="#c8c8c8"/>
<rect x="269.10" y="284.0" width="2.0" height="21.100000000000023" fill="#c8c8c8"/>
<rect x="190.20" y="287.70" width="12.60" height="7.80" rx="3.90" fill="#777777"/><rect x="190.50" y="288.60" width="12.00" height="6.00" rx="1.30" fill="#1c1c1c"/>
<rect x="204.20" y="287.70" width="12.60" height="7.80" rx="3.90" fill="#767676"/><rect x="204.50" y="288.60" width="12.00" height="6.00" rx="1.30" fill="#191919"/>
<rect x="217.50" y="287.70" width="12.60" height="7.80" rx="3.90" fill="#777777"/><rect x="217.80" y="288.60" width="12.00" height="6.00" rx="1.30" fill="#1c1c1c"/>
<rect x="230.70" y="287.70" width="12.60" height="7.80" rx="3.90" fill="#757575"/><rect x="231.00" y="288.60" width="12.00" height="6.00" rx="1.30" fill="#161616"/>
<rect x="243.70" y="287.70" width="12.60" height="7.80" rx="3.90" fill="#757575"/><rect x="244.00" y="288.60" width="12.00" height="6.00" rx="1.30" fill="#161616"/>
<rect x="257.00" y="287.70" width="12.60" height="7.80" rx="3.90" fill="#787878"/><rect x="257.30" y="288.60" width="12.00" height="6.00" rx="1.30" fill="#1e1e1e"/>
<rect x="269.90" y="287.70" width="12.60" height="7.80" rx="3.90" fill="#919191"/><rect x="270.20" y="288.60" width="12.00" height="6.00" rx="1.30" fill="#696969"/>
<rect x="190.20" y="294.90" width="12.60" height="3.80" rx="1.90" fill="#8c8c8c"/><rect x="190.50" y="295.80" width="12.00" height="2.00" rx="1.00" fill="#5a5a5a"/>
<rect x="204.20" y="294.90" width="12.60" height="3.80" rx="1.90" fill="#a6a6a6"/><rect x="204.50" y="295.80" width="12.00" height="2.00" rx="1.00" fill="#aaaaaa"/>
<rect x="217.50" y="294.90" width="12.60" height="3.80" rx="1.90" fill="#929292"/><rect x="217.80" y="295.80" width="12.00" height="2.00" rx="1.00" fill="#6e6e6e"/>
<rect x="230.70" y="294.90" width="12.60" height="3.80" rx="1.90" fill="#929292"/><rect x="231.00" y="295.80" width="12.00" height="2.00" rx="1.00" fill="#6e6e6e"/>
<rect x="243.70" y="294.90" width="12.60" height="3.80" rx="1.90" fill="#929292"/><rect x="244.00" y="295.80" width="12.00" height="2.00" rx="1.00" fill="#6e6e6e"/>
<rect x="257.00" y="294.90" width="12.60" height="3.80" rx="1.90" fill="#929292"/><rect x="257.30" y="295.80" width="12.00" height="2.00" rx="1.00" fill="#6e6e6e"/>
<rect x="269.90" y="294.90" width="12.60" height="3.80" rx="1.90" fill="#9c9c9c"/><rect x="270.20" y="295.80" width="12.00" height="2.00" rx="1.00" fill="#8c8c8c"/>
<rect x="190.20" y="298.90" width="12.60" height="3.40" rx="1.70" fill="#b5b5b5"/><rect x="190.50" y="299.80" width="12.00" height="1.60" rx="0.80" fill="#d7d7d7"/>
<rect x="204.20" y="298.90" width="12.60" height="3.40" rx="1.70" fill="#b5b5b5"/><rect x="204.50" y="299.80" width="12.00" height="1.60" rx="0.80" fill="#d7d7d7"/>
<rect x="217.50" y="298.90" width="12.60" height="3.40" rx="1.70" fill="#b5b5b5"/><rect x="217.80" y="299.80" width="12.00" height="1.60" rx="0.80" fill="#d7d7d7"/>
<rect x="230.70" y="298.90" width="12.60" height="3.40" rx="1.70" fill="#b5b5b5"/><rect x="231.00" y="299.80" width="12.00" height="1.60" rx="0.80" fill="#d7d7d7"/>
<rect x="243.70" y="298.90" width="12.60" height="3.40" rx="1.70" fill="#b5b5b5"/><rect x="244.00" y="299.80" width="12.00" height="1.60" rx="0.80" fill="#d7d7d7"/>
<rect x="257.00" y="298.90" width="12.60" height="3.40" rx="1.70" fill="#b5b5b5"/><rect x="257.30" y="299.80" width="12.00" height="1.60" rx="0.80" fill="#d7d7d7"/>
<rect x="269.90" y="298.90" width="12.60" height="3.40" rx="1.70" fill="#b5b5b5"/><rect x="270.20" y="299.80" width="12.00" height="1.60" rx="0.80" fill="#d7d7d7"/>
</g></svg>
<rect x="190.2" y="286.0" width="91.80000000000001" height="17.100000000000023" fill="none" stroke="#333" stroke-width="0.9"/>
<rect x="190.2" y="306.0" width="91.80000000000001" height="18.0" fill="#a8a8a8"/>
<svg x="190.2" y="306.0" width="91.80000000000001" height="18.0" overflow="hidden"><g transform="translate(-190.2,-306.0)" filter="url(#b07)">
<rect x="188.2" y="304.0" width="95.80000000000001" height="22.0" fill="#a8a8a8"/>
<rect x="202.90" y="304.0" width="2.0" height="22.0" fill="#c8c8c8"/>
<rect x="216.30" y="304.0" width="2.0" height="22.0" fill="#c8c8c8"/>
<rect x="229.30" y="304.0" width="2.0" height="22.0" fill="#c8c8c8"/>
<rect x="242.70" y="304.0" width="2.0" height="22.0" fill="#c8c8c8"/>
<rect x="255.60" y="304.0" width="2.0" height="22.0" fill="#c8c8c8"/>
<rect x="269.10" y="304.0" width="2.0" height="22.0" fill="#c8c8c8"/>
<rect x="190.20" y="307.90" width="12.60" height="7.80" rx="3.90" fill="#7a7a7a"/><rect x="190.50" y="308.80" width="12.00" height="6.00" rx="1.30" fill="#202020"/>
<rect x="204.20" y="307.90" width="12.60" height="7.80" rx="3.90" fill="#797979"/><rect x="204.50" y="308.80" width="12.00" height="6.00" rx="1.30" fill="#1c1c1c"/>
<rect x="217.50" y="307.90" width="12.60" height="7.80" rx="3.90" fill="#7a7a7a"/><rect x="217.80" y="308.80" width="12.00" height="6.00" rx="1.30" fill="#202020"/>
<rect x="230.70" y="307.90" width="12.60" height="7.80" rx="3.90" fill="#797979"/><rect x="231.00" y="308.80" width="12.00" height="6.00" rx="1.30" fill="#1c1c1c"/>
<rect x="243.70" y="307.90" width="12.60" height="7.80" rx="3.90" fill="#797979"/><rect x="244.00" y="308.80" width="12.00" height="6.00" rx="1.30" fill="#1c1c1c"/>
<rect x="257.00" y="307.90" width="12.60" height="7.80" rx="3.90" fill="#7a7a7a"/><rect x="257.30" y="308.80" width="12.00" height="6.00" rx="1.30" fill="#202020"/>
<rect x="269.90" y="307.90" width="12.60" height="7.80" rx="3.90" fill="#989898"/><rect x="270.20" y="308.80" width="12.00" height="6.00" rx="1.30" fill="#787878"/>
<rect x="190.20" y="315.50" width="12.60" height="3.80" rx="1.90" fill="#969696"/><rect x="190.50" y="316.40" width="12.00" height="2.00" rx="1.00" fill="#737373"/>
<rect x="204.20" y="315.50" width="12.60" height="3.80" rx="1.90" fill="#969696"/><rect x="204.50" y="316.40" width="12.00" height="2.00" rx="1.00" fill="#737373"/>
<rect x="217.50" y="315.50" width="12.60" height="3.80" rx="1.90" fill="#969696"/><rect x="217.80" y="316.40" width="12.00" height="2.00" rx="1.00" fill="#737373"/>
<rect x="230.70" y="315.50" width="12.60" height="3.80" rx="1.90" fill="#969696"/><rect x="231.00" y="316.40" width="12.00" height="2.00" rx="1.00" fill="#737373"/>
<rect x="243.70" y="315.50" width="12.60" height="3.80" rx="1.90" fill="#969696"/><rect x="244.00" y="316.40" width="12.00" height="2.00" rx="1.00" fill="#737373"/>
<rect x="257.00" y="315.50" width="12.60" height="3.80" rx="1.90" fill="#969696"/><rect x="257.30" y="316.40" width="12.00" height="2.00" rx="1.00" fill="#737373"/>
<rect x="269.90" y="315.50" width="12.60" height="3.80" rx="1.90" fill="#969696"/><rect x="270.20" y="316.40" width="12.00" height="2.00" rx="1.00" fill="#737373"/>
<rect x="190.20" y="319.30" width="12.60" height="3.40" rx="1.70" fill="#b7b7b7"/><rect x="190.50" y="320.20" width="12.00" height="1.60" rx="0.80" fill="#d7d7d7"/>
<rect x="204.20" y="319.30" width="12.60" height="3.40" rx="1.70" fill="#b7b7b7"/><rect x="204.50" y="320.20" width="12.00" height="1.60" rx="0.80" fill="#d7d7d7"/>
<rect x="217.50" y="319.30" width="12.60" height="3.40" rx="1.70" fill="#b7b7b7"/><rect x="217.80" y="320.20" width="12.00" height="1.60" rx="0.80" fill="#d7d7d7"/>
<rect x="230.70" y="319.30" width="12.60" height="3.40" rx="1.70" fill="#b7b7b7"/><rect x="231.00" y="320.20" width="12.00" height="1.60" rx="0.80" fill="#d7d7d7"/>
<rect x="243.70" y="319.30" width="12.60" height="3.40" rx="1.70" fill="#b7b7b7"/><rect x="244.00" y="320.20" width="12.00" height="1.60" rx="0.80" fill="#d7d7d7"/>
<rect x="257.00" y="319.30" width="12.60" height="3.40" rx="1.70" fill="#b7b7b7"/><rect x="257.30" y="320.20" width="12.00" height="1.60" rx="0.80" fill="#d7d7d7"/>
<rect x="269.90" y="319.30" width="12.60" height="3.40" rx="1.70" fill="#b7b7b7"/><rect x="270.20" y="320.20" width="12.00" height="1.60" rx="0.80" fill="#d7d7d7"/>
</g></svg>
<rect x="190.2" y="306.0" width="91.80000000000001" height="18.0" fill="none" stroke="#333" stroke-width="0.9"/>
<rect x="190.2" y="326.3" width="91.80000000000001" height="5.300000000000011" fill="#969696"/>
<svg x="190.2" y="326.3" width="91.80000000000001" height="5.300000000000011" overflow="hidden"><g transform="translate(-190.2,-326.3)" filter="url(#b04)">
<rect x="188.2" y="324.3" width="95.80000000000001" height="9.300000000000011" fill="#969696"/>
<rect x="190.00" y="328.20" width="13.00" height="2.20" rx="1.10" fill="#0a0a0a"/>
<rect x="204.00" y="328.20" width="13.00" height="2.20" rx="1.10" fill="#0a0a0a"/>
<rect x="217.30" y="328.20" width="13.00" height="2.20" rx="1.10" fill="#0a0a0a"/>
<rect x="230.50" y="328.20" width="13.00" height="2.20" rx="1.10" fill="#0a0a0a"/>
<rect x="243.50" y="328.20" width="13.00" height="2.20" rx="1.10" fill="#0a0a0a"/>
<rect x="256.80" y="328.20" width="13.00" height="2.20" rx="1.10" fill="#0a0a0a"/>
<rect x="269.70" y="328.20" width="13.00" height="2.20" rx="1.10" fill="#0a0a0a"/>
<rect x="202.9" y="327.5" width="2.0" height="3.0" fill="#f2f2f2"/><rect x="216.3" y="327.5" width="2.0" height="3.0" fill="#f2f2f2"/><rect x="229.3" y="327.5" width="2.0" height="3.0" fill="#f2f2f2"/><rect x="242.7" y="327.5" width="2.0" height="3.0" fill="#f2f2f2"/><rect x="255.6" y="327.5" width="2.0" height="3.0" fill="#f2f2f2"/><rect x="269.1" y="327.5" width="2.0" height="3.0" fill="#f2f2f2"/>
</g></svg>
<rect x="190.2" y="326.3" width="91.80000000000001" height="5.300000000000011" fill="none" stroke="#333" stroke-width="0.9"/>
<line x1="284.0" y1="290.9" x2="289.6" y2="290.9" stroke="#333" stroke-width="0.9"/>
<line x1="284.0" y1="306.2" x2="289.6" y2="306.2" stroke="#333" stroke-width="0.9"/>
<line x1="373.4" y1="37.60" x2="373.4" y2="135.80" stroke="#111" stroke-width="1"/>
<line x1="370.8" y1="37.60" x2="373.4" y2="37.60" stroke="#111" stroke-width="1"/>
<line x1="370.8" y1="69.60" x2="373.4" y2="69.60" stroke="#111" stroke-width="1"/>
<line x1="370.8" y1="101.60" x2="373.4" y2="101.60" stroke="#111" stroke-width="1"/>
<line x1="370.8" y1="133.60" x2="373.4" y2="133.60" stroke="#111" stroke-width="1"/>
<line x1="373.4" y1="133.60" x2="399.8" y2="133.60" stroke="#111" stroke-width="1"/>
<line x1="399.8" y1="131.80" x2="399.8" y2="135.40" stroke="#111" stroke-width="1"/>
<line x1="405.6" y1="133.60" x2="509.6" y2="133.60" stroke="#111" stroke-width="1"/>
<line x1="405.6" y1="131.80" x2="405.6" y2="135.40" stroke="#111" stroke-width="1"/>
<line x1="381.80" y1="133.60" x2="381.80" y2="136.20" stroke="#111" stroke-width="1"/>
<line x1="413.60" y1="133.60" x2="413.60" y2="136.20" stroke="#111" stroke-width="1"/>
<line x1="434.80" y1="133.60" x2="434.80" y2="136.20" stroke="#111" stroke-width="1"/>
<line x1="456.00" y1="133.60" x2="456.00" y2="136.20" stroke="#111" stroke-width="1"/>
<line x1="509.00" y1="133.60" x2="509.00" y2="136.20" stroke="#111" stroke-width="1"/>
<polyline points="373.40,69.60 381.80,60.64 399.8,69.60" fill="none" stroke="#111" stroke-width="1.35"/>
<polyline points="405.6,69.60 413.60,73.44 434.80,78.56 456.00,93.92 509.00,132.32" fill="none" stroke="#111" stroke-width="1.35"/>
<line x1="399.80" y1="67.80" x2="399.80" y2="71.40" stroke="#111" stroke-width="1.1"/>
<line x1="405.60" y1="67.80" x2="405.60" y2="71.40" stroke="#111" stroke-width="1.1"/>
<polyline points="373.40,69.60 381.80,65.12 399.8,69.60" fill="none" stroke="#111" stroke-width="1.35"/>
<polyline points="405.6,77.28 413.60,70.24 434.80,85.92 456.00,98.40 509.00,123.36" fill="none" stroke="#111" stroke-width="1.35"/>
<line x1="399.80" y1="67.80" x2="399.80" y2="71.40" stroke="#111" stroke-width="1.1"/>
<line x1="405.60" y1="75.48" x2="405.60" y2="79.08" stroke="#111" stroke-width="1.1"/>
<polyline points="373.40,69.60 381.80,56.80 399.8,69.60" fill="none" stroke="#111" stroke-width="1.35"/>
<polyline points="405.6,77.28 413.60,81.12 434.80,74.40 456.00,98.40 509.00,95.84" fill="none" stroke="#111" stroke-width="1.35"/>
<line x1="399.80" y1="67.80" x2="399.80" y2="71.40" stroke="#111" stroke-width="1.1"/>
<line x1="405.60" y1="75.48" x2="405.60" y2="79.08" stroke="#111" stroke-width="1.1"/>
<polyline points="373.40,69.60 381.80,83.68 399.8,77.60" fill="none" stroke="#111" stroke-width="1.35"/>
<polyline points="405.6,69.60 413.60,76.64 434.80,83.68 456.00,100.32 509.00,125.92" fill="none" stroke="#111" stroke-width="1.35"/>
<line x1="399.80" y1="75.80" x2="399.80" y2="79.40" stroke="#111" stroke-width="1.1"/>
<line x1="405.60" y1="67.80" x2="405.60" y2="71.40" stroke="#111" stroke-width="1.1"/>
<line x1="381.80" y1="78.56" x2="381.80" y2="88.80" stroke="#111" stroke-width="0.9"/>
<line x1="380.20" y1="88.80" x2="383.40" y2="88.80" stroke="#111" stroke-width="0.9"/>
<line x1="380.20" y1="78.56" x2="383.40" y2="78.56" stroke="#111" stroke-width="0.9"/>
<line x1="381.80" y1="63.20" x2="381.80" y2="76.64" stroke="#111" stroke-width="0.9"/>
<line x1="380.20" y1="76.64" x2="383.40" y2="76.64" stroke="#111" stroke-width="0.9"/>
<line x1="380.20" y1="63.20" x2="383.40" y2="63.20" stroke="#111" stroke-width="0.9"/>
<line x1="413.60" y1="62.56" x2="413.60" y2="85.92" stroke="#111" stroke-width="0.9"/>
<line x1="412.00" y1="85.92" x2="415.20" y2="85.92" stroke="#111" stroke-width="0.9"/>
<line x1="412.00" y1="62.56" x2="415.20" y2="62.56" stroke="#111" stroke-width="0.9"/>
<line x1="434.80" y1="67.68" x2="434.80" y2="98.08" stroke="#111" stroke-width="0.9"/>
<line x1="433.20" y1="98.08" x2="436.40" y2="98.08" stroke="#111" stroke-width="0.9"/>
<line x1="433.20" y1="67.68" x2="436.40" y2="67.68" stroke="#111" stroke-width="0.9"/>
<line x1="456.00" y1="83.04" x2="456.00" y2="108.00" stroke="#111" stroke-width="0.9"/>
<line x1="454.40" y1="108.00" x2="457.60" y2="108.00" stroke="#111" stroke-width="0.9"/>
<line x1="454.40" y1="83.04" x2="457.60" y2="83.04" stroke="#111" stroke-width="0.9"/>
<line x1="509.00" y1="95.84" x2="509.00" y2="111.20" stroke="#111" stroke-width="0.9"/>
<line x1="507.40" y1="111.20" x2="510.60" y2="111.20" stroke="#111" stroke-width="0.9"/>
<line x1="507.40" y1="95.84" x2="510.60" y2="95.84" stroke="#111" stroke-width="0.9"/>
<path d="M379.20,81.78 L384.40,81.78 L381.80,86.08 Z" fill="#111" stroke="#111" stroke-width="0.7"/>
<path d="M411.00,74.74 L416.20,74.74 L413.60,79.04 Z" fill="#111" stroke="#111" stroke-width="0.7"/>
<path d="M432.20,81.78 L437.40,81.78 L434.80,86.08 Z" fill="#111" stroke="#111" stroke-width="0.7"/>
<path d="M453.40,98.42 L458.60,98.42 L456.00,102.72 Z" fill="#111" stroke="#111" stroke-width="0.7"/>
<path d="M506.40,124.02 L511.60,124.02 L509.00,128.32 Z" fill="#111" stroke="#111" stroke-width="0.7"/>
<rect x="379.80" y="63.12" width="4.0" height="4.0" fill="#fff" stroke="#111" stroke-width="1.15"/>
<line x1="379.80" y1="65.12" x2="383.80" y2="65.12" stroke="#111" stroke-width="1.0"/>
<rect x="411.60" y="68.24" width="4.0" height="4.0" fill="#fff" stroke="#111" stroke-width="1.15"/>
<line x1="411.60" y1="70.24" x2="415.60" y2="70.24" stroke="#111" stroke-width="1.0"/>
<rect x="432.80" y="83.92" width="4.0" height="4.0" fill="#fff" stroke="#111" stroke-width="1.15"/>
<line x1="432.80" y1="85.92" x2="436.80" y2="85.92" stroke="#111" stroke-width="1.0"/>
<rect x="454.00" y="96.40" width="4.0" height="4.0" fill="#fff" stroke="#111" stroke-width="1.15"/>
<line x1="454.00" y1="98.40" x2="458.00" y2="98.40" stroke="#111" stroke-width="1.0"/>
<rect x="507.00" y="121.36" width="4.0" height="4.0" fill="#fff" stroke="#111" stroke-width="1.15"/>
<line x1="507.00" y1="123.36" x2="511.00" y2="123.36" stroke="#111" stroke-width="1.0"/>
<circle cx="381.80" cy="56.80" r="2.1" fill="#fff" stroke="#111" stroke-width="1.15"/>
<line x1="379.70" y1="56.80" x2="383.90" y2="56.80" stroke="#111" stroke-width="1.0"/>
<circle cx="413.60" cy="81.12" r="2.1" fill="#fff" stroke="#111" stroke-width="1.15"/>
<line x1="411.50" y1="81.12" x2="415.70" y2="81.12" stroke="#111" stroke-width="1.0"/>
<circle cx="434.80" cy="74.40" r="2.1" fill="#fff" stroke="#111" stroke-width="1.15"/>
<line x1="432.70" y1="74.40" x2="436.90" y2="74.40" stroke="#111" stroke-width="1.0"/>
<circle cx="456.00" cy="98.40" r="2.1" fill="#fff" stroke="#111" stroke-width="1.15"/>
<line x1="453.90" y1="98.40" x2="458.10" y2="98.40" stroke="#111" stroke-width="1.0"/>
<circle cx="509.00" cy="95.84" r="2.1" fill="#fff" stroke="#111" stroke-width="1.15"/>
<line x1="506.90" y1="95.84" x2="511.10" y2="95.84" stroke="#111" stroke-width="1.0"/>
<path d="M381.80,58.14 L384.30,60.64 L381.80,63.14 L379.30,60.64 Z" fill="#fff" stroke="#111" stroke-width="1.15"/>
<path d="M413.60,70.94 L416.10,73.44 L413.60,75.94 L411.10,73.44 Z" fill="#fff" stroke="#111" stroke-width="1.15"/>
<path d="M434.80,76.06 L437.30,78.56 L434.80,81.06 L432.30,78.56 Z" fill="#fff" stroke="#111" stroke-width="1.15"/>
<path d="M456.00,91.42 L458.50,93.92 L456.00,96.42 L453.50,93.92 Z" fill="#fff" stroke="#111" stroke-width="1.15"/>
<path d="M509.00,129.82 L511.50,132.32 L509.00,134.82 L506.50,132.32 Z" fill="#fff" stroke="#111" stroke-width="1.15"/>
<circle cx="373.40" cy="69.60" r="2.5" fill="#111"/>
<line x1="451.40" y1="31.50" x2="460.00" y2="31.50" stroke="#111" stroke-width="1.6"/>
<path d="M455.70,29.00 L458.20,31.50 L455.70,34.00 L453.20,31.50 Z" fill="#fff" stroke="#111" stroke-width="1.15"/>
<line x1="451.40" y1="39.70" x2="460.00" y2="39.70" stroke="#111" stroke-width="1.6"/>
<rect x="453.70" y="37.70" width="4.0" height="4.0" fill="#fff" stroke="#111" stroke-width="1.15"/>
<line x1="453.70" y1="39.70" x2="457.70" y2="39.70" stroke="#111" stroke-width="1.0"/>
<line x1="451.40" y1="48.10" x2="460.00" y2="48.10" stroke="#111" stroke-width="1.6"/>
<circle cx="455.70" cy="48.10" r="2.1" fill="#fff" stroke="#111" stroke-width="1.15"/>
<line x1="453.60" y1="48.10" x2="457.80" y2="48.10" stroke="#111" stroke-width="1.0"/>
<line x1="451.40" y1="56.50" x2="460.00" y2="56.50" stroke="#111" stroke-width="1.6"/>
<path d="M453.10,54.60 L458.30,54.60 L455.70,58.90 Z" fill="#111" stroke="#111" stroke-width="0.7"/>
<line x1="373.4" y1="227.30" x2="373.4" y2="327.00" stroke="#111" stroke-width="1"/>
<line x1="370.8" y1="227.30" x2="373.4" y2="227.30" stroke="#111" stroke-width="1"/>
<line x1="370.8" y1="259.80" x2="373.4" y2="259.80" stroke="#111" stroke-width="1"/>
<line x1="370.8" y1="292.30" x2="373.4" y2="292.30" stroke="#111" stroke-width="1"/>
<line x1="370.8" y1="324.80" x2="373.4" y2="324.80" stroke="#111" stroke-width="1"/>
<line x1="373.4" y1="324.80" x2="399.8" y2="324.80" stroke="#111" stroke-width="1"/>
<line x1="399.8" y1="323.00" x2="399.8" y2="326.60" stroke="#111" stroke-width="1"/>
<line x1="405.6" y1="324.80" x2="509.6" y2="324.80" stroke="#111" stroke-width="1"/>
<line x1="405.6" y1="323.00" x2="405.6" y2="326.60" stroke="#111" stroke-width="1"/>
<line x1="381.80" y1="324.80" x2="381.80" y2="327.40" stroke="#111" stroke-width="1"/>
<line x1="413.60" y1="324.80" x2="413.60" y2="327.40" stroke="#111" stroke-width="1"/>
<line x1="434.80" y1="324.80" x2="434.80" y2="327.40" stroke="#111" stroke-width="1"/>
<line x1="456.00" y1="324.80" x2="456.00" y2="327.40" stroke="#111" stroke-width="1"/>
<line x1="509.00" y1="324.80" x2="509.00" y2="327.40" stroke="#111" stroke-width="1"/>
<polyline points="373.40,259.80 381.80,253.30 399.8,250.70" fill="none" stroke="#111" stroke-width="1.35"/>
<polyline points="405.6,249.40 413.60,248.75 434.80,252.65 456.00,269.55 509.00,286.45" fill="none" stroke="#111" stroke-width="1.35"/>
<line x1="399.80" y1="248.90" x2="399.80" y2="252.50" stroke="#111" stroke-width="1.1"/>
<line x1="405.60" y1="247.60" x2="405.60" y2="251.20" stroke="#111" stroke-width="1.1"/>
<polyline points="373.40,259.80 381.80,252.00 399.8,249.40" fill="none" stroke="#111" stroke-width="1.35"/>
<polyline points="405.6,248.10 413.60,246.80 434.80,259.80 456.00,261.10 509.00,250.05" fill="none" stroke="#111" stroke-width="1.35"/>
<line x1="399.80" y1="247.60" x2="399.80" y2="251.20" stroke="#111" stroke-width="1.1"/>
<line x1="405.60" y1="246.30" x2="405.60" y2="249.90" stroke="#111" stroke-width="1.1"/>
<polyline points="373.40,259.80 381.80,259.80 399.8,264.35" fill="none" stroke="#111" stroke-width="1.35"/>
<polyline points="405.6,265.65 413.60,266.95 434.80,261.75 456.00,269.55 509.00,263.05" fill="none" stroke="#111" stroke-width="1.35"/>
<line x1="399.80" y1="262.55" x2="399.80" y2="266.15" stroke="#111" stroke-width="1.1"/>
<line x1="405.60" y1="263.85" x2="405.60" y2="267.45" stroke="#111" stroke-width="1.1"/>
<polyline points="373.40,259.80 381.80,259.80 399.8,264.35" fill="none" stroke="#111" stroke-width="1.35"/>
<polyline points="405.6,265.65 413.60,266.30 434.80,261.75 456.00,270.20 509.00,290.35" fill="none" stroke="#111" stroke-width="1.35"/>
<line x1="399.80" y1="262.55" x2="399.80" y2="266.15" stroke="#111" stroke-width="1.1"/>
<line x1="405.60" y1="263.85" x2="405.60" y2="267.45" stroke="#111" stroke-width="1.1"/>
<line x1="381.80" y1="259.80" x2="381.80" y2="263.70" stroke="#111" stroke-width="0.9"/>
<line x1="380.20" y1="263.70" x2="383.40" y2="263.70" stroke="#111" stroke-width="0.9"/>
<line x1="380.20" y1="259.80" x2="383.40" y2="259.80" stroke="#111" stroke-width="0.9"/>
<line x1="413.60" y1="244.20" x2="413.60" y2="253.30" stroke="#111" stroke-width="0.9"/>
<line x1="412.00" y1="253.30" x2="415.20" y2="253.30" stroke="#111" stroke-width="0.9"/>
<line x1="412.00" y1="244.20" x2="415.20" y2="244.20" stroke="#111" stroke-width="0.9"/>
<line x1="413.60" y1="265.00" x2="413.60" y2="272.80" stroke="#111" stroke-width="0.9"/>
<line x1="412.00" y1="272.80" x2="415.20" y2="272.80" stroke="#111" stroke-width="0.9"/>
<line x1="412.00" y1="265.00" x2="415.20" y2="265.00" stroke="#111" stroke-width="0.9"/>
<line x1="434.80" y1="256.55" x2="434.80" y2="265.00" stroke="#111" stroke-width="0.9"/>
<line x1="433.20" y1="265.00" x2="436.40" y2="265.00" stroke="#111" stroke-width="0.9"/>
<line x1="433.20" y1="256.55" x2="436.40" y2="256.55" stroke="#111" stroke-width="0.9"/>
<line x1="456.00" y1="266.30" x2="456.00" y2="272.80" stroke="#111" stroke-width="0.9"/>
<line x1="454.40" y1="272.80" x2="457.60" y2="272.80" stroke="#111" stroke-width="0.9"/>
<line x1="454.40" y1="266.30" x2="457.60" y2="266.30" stroke="#111" stroke-width="0.9"/>
<line x1="509.00" y1="289.05" x2="509.00" y2="300.75" stroke="#111" stroke-width="0.9"/>
<line x1="507.40" y1="300.75" x2="510.60" y2="300.75" stroke="#111" stroke-width="0.9"/>
<line x1="507.40" y1="289.05" x2="510.60" y2="289.05" stroke="#111" stroke-width="0.9"/>
<line x1="509.00" y1="245.50" x2="509.00" y2="263.05" stroke="#111" stroke-width="0.9"/>
<line x1="507.40" y1="263.05" x2="510.60" y2="263.05" stroke="#111" stroke-width="0.9"/>
<line x1="507.40" y1="245.50" x2="510.60" y2="245.50" stroke="#111" stroke-width="0.9"/>
<path d="M379.20,257.90 L384.40,257.90 L381.80,262.20 Z" fill="#111" stroke="#111" stroke-width="0.7"/>
<path d="M411.00,264.40 L416.20,264.40 L413.60,268.70 Z" fill="#111" stroke="#111" stroke-width="0.7"/>
<path d="M432.20,259.85 L437.40,259.85 L434.80,264.15 Z" fill="#111" stroke="#111" stroke-width="0.7"/>
<path d="M453.40,268.30 L458.60,268.30 L456.00,272.60 Z" fill="#111" stroke="#111" stroke-width="0.7"/>
<path d="M506.40,288.45 L511.60,288.45 L509.00,292.75 Z" fill="#111" stroke="#111" stroke-width="0.7"/>
<rect x="379.80" y="250.00" width="4.0" height="4.0" fill="#fff" stroke="#111" stroke-width="1.15"/>
<line x1="379.80" y1="252.00" x2="383.80" y2="252.00" stroke="#111" stroke-width="1.0"/>
<rect x="411.60" y="244.80" width="4.0" height="4.0" fill="#fff" stroke="#111" stroke-width="1.15"/>
<line x1="411.60" y1="246.80" x2="415.60" y2="246.80" stroke="#111" stroke-width="1.0"/>
<rect x="432.80" y="257.80" width="4.0" height="4.0" fill="#fff" stroke="#111" stroke-width="1.15"/>
<line x1="432.80" y1="259.80" x2="436.80" y2="259.80" stroke="#111" stroke-width="1.0"/>
<rect x="454.00" y="259.10" width="4.0" height="4.0" fill="#fff" stroke="#111" stroke-width="1.15"/>
<line x1="454.00" y1="261.10" x2="458.00" y2="261.10" stroke="#111" stroke-width="1.0"/>
<rect x="507.00" y="248.05" width="4.0" height="4.0" fill="#fff" stroke="#111" stroke-width="1.15"/>
<line x1="507.00" y1="250.05" x2="511.00" y2="250.05" stroke="#111" stroke-width="1.0"/>
<circle cx="381.80" cy="259.80" r="2.1" fill="#fff" stroke="#111" stroke-width="1.15"/>
<line x1="379.70" y1="259.80" x2="383.90" y2="259.80" stroke="#111" stroke-width="1.0"/>
<circle cx="413.60" cy="266.95" r="2.1" fill="#fff" stroke="#111" stroke-width="1.15"/>
<line x1="411.50" y1="266.95" x2="415.70" y2="266.95" stroke="#111" stroke-width="1.0"/>
<circle cx="434.80" cy="261.75" r="2.1" fill="#fff" stroke="#111" stroke-width="1.15"/>
<line x1="432.70" y1="261.75" x2="436.90" y2="261.75" stroke="#111" stroke-width="1.0"/>
<circle cx="456.00" cy="269.55" r="2.1" fill="#fff" stroke="#111" stroke-width="1.15"/>
<line x1="453.90" y1="269.55" x2="458.10" y2="269.55" stroke="#111" stroke-width="1.0"/>
<circle cx="509.00" cy="263.05" r="2.1" fill="#fff" stroke="#111" stroke-width="1.15"/>
<line x1="506.90" y1="263.05" x2="511.10" y2="263.05" stroke="#111" stroke-width="1.0"/>
<path d="M381.80,250.80 L384.30,253.30 L381.80,255.80 L379.30,253.30 Z" fill="#fff" stroke="#111" stroke-width="1.15"/>
<path d="M413.60,246.25 L416.10,248.75 L413.60,251.25 L411.10,248.75 Z" fill="#fff" stroke="#111" stroke-width="1.15"/>
<path d="M434.80,250.15 L437.30,252.65 L434.80,255.15 L432.30,252.65 Z" fill="#fff" stroke="#111" stroke-width="1.15"/>
<path d="M456.00,267.05 L458.50,269.55 L456.00,272.05 L453.50,269.55 Z" fill="#fff" stroke="#111" stroke-width="1.15"/>
<path d="M509.00,283.95 L511.50,286.45 L509.00,288.95 L506.50,286.45 Z" fill="#fff" stroke="#111" stroke-width="1.15"/>
<rect x="371.00" y="257.40" width="4.8" height="4.8" fill="#111"/>
<line x1="449.90" y1="206.90" x2="458.50" y2="206.90" stroke="#111" stroke-width="1.6"/>
<path d="M454.20,204.40 L456.70,206.90 L454.20,209.40 L451.70,206.90 Z" fill="#fff" stroke="#111" stroke-width="1.15"/>
<line x1="449.90" y1="215.20" x2="458.50" y2="215.20" stroke="#111" stroke-width="1.6"/>
<rect x="452.20" y="213.20" width="4.0" height="4.0" fill="#fff" stroke="#111" stroke-width="1.15"/>
<line x1="452.20" y1="215.20" x2="456.20" y2="215.20" stroke="#111" stroke-width="1.0"/>
<line x1="449.90" y1="223.80" x2="458.50" y2="223.80" stroke="#111" stroke-width="1.6"/>
<circle cx="454.20" cy="223.80" r="2.1" fill="#fff" stroke="#111" stroke-width="1.15"/>
<line x1="452.10" y1="223.80" x2="456.30" y2="223.80" stroke="#111" stroke-width="1.0"/>
<line x1="449.90" y1="232.30" x2="458.50" y2="232.30" stroke="#111" stroke-width="1.6"/>
<path d="M451.60,230.40 L456.80,230.40 L454.20,234.70 Z" fill="#111" stroke="#111" stroke-width="0.7"/>
<g filter="url(#tb)" stroke="#222" stroke-width="0.18"><text x="30.00" y="12.70" font-size="14.0" font-weight="bold" textLength="10.00" lengthAdjust="spacingAndGlyphs" fill="#222" stroke="#222" stroke-width="0.7">A</text><text x="97.00" y="12.17" font-size="8.2" font-weight="bold" textLength="27.60" lengthAdjust="spacingAndGlyphs" fill="#222">JeKo-1</text><text x="227.90" y="12.17" font-size="8.2" font-weight="bold" textLength="19.00" lengthAdjust="spacingAndGlyphs" fill="#222">Mino</text><text x="18.60" y="27.11" font-size="6.6" font-weight="normal" textLength="44.60" lengthAdjust="spacingAndGlyphs" fill="#222">SGI-1776 (µM)</text><text x="19.40" y="41.62" font-size="6.9" font-weight="normal" textLength="43.40" lengthAdjust="spacingAndGlyphs" fill="#222">c-Myc (Ser62)</text><text x="27.20" y="57.12" font-size="6.9" font-weight="normal" textLength="35.60" lengthAdjust="spacingAndGlyphs" fill="#222">Total c-Myc</text><text x="37.40" y="71.32" font-size="6.9" font-weight="normal" textLength="25.40" lengthAdjust="spacingAndGlyphs" fill="#222">GAPDH</text><text x="73.50" y="27.11" font-size="6.6" font-weight="normal" text-anchor="middle" fill="#222">0</text><text x="79.10" y="27.15" font-size="5.0" font-weight="normal" textLength="16.00" lengthAdjust="spacingAndGlyphs" fill="#222">DMSO</text><text x="101.40" y="27.11" font-size="6.6" font-weight="normal" text-anchor="middle" fill="#222">0.1</text><text x="114.60" y="27.11" font-size="6.6" font-weight="normal" text-anchor="middle" fill="#222">1</text><text x="127.30" y="27.11" font-size="6.6" font-weight="normal" text-anchor="middle" fill="#222">3</text><text x="139.10" y="27.11" font-size="6.6" font-weight="normal" text-anchor="middle" fill="#222">5</text><text x="151.30" y="27.11" font-size="6.6" font-weight="normal" text-anchor="middle" fill="#222">10</text><text x="196.00" y="27.11" font-size="6.6" font-weight="normal" text-anchor="middle" fill="#222">0</text><text x="201.00" y="27.15" font-size="5.0" font-weight="normal" textLength="16.00" lengthAdjust="spacingAndGlyphs" fill="#222">DMSO</text><text x="223.60" y="27.11" font-size="6.6" font-weight="normal" text-anchor="middle" fill="#222">0.1</text><text x="238.00" y="27.11" font-size="6.6" font-weight="normal" text-anchor="middle" fill="#222">1</text><text x="251.40" y="27.11" font-size="6.6" font-weight="normal" text-anchor="middle" fill="#222">3</text><text x="264.80" y="27.11" font-size="6.6" font-weight="normal" text-anchor="middle" fill="#222">5</text><text x="278.60" y="27.11" font-size="6.6" font-weight="normal" text-anchor="middle" fill="#222">10</text><text x="168.80" y="46.67" font-size="6.5" font-weight="normal" textLength="13.70" lengthAdjust="spacingAndGlyphs" fill="#222">50kD</text><text x="168.80" y="61.77" font-size="6.5" font-weight="normal" textLength="13.70" lengthAdjust="spacingAndGlyphs" fill="#222">50kD</text><text x="297.20" y="45.48" font-size="6.5" font-weight="normal" textLength="13.70" lengthAdjust="spacingAndGlyphs" fill="#222">50kD</text><text x="297.20" y="59.57" font-size="6.5" font-weight="normal" textLength="13.70" lengthAdjust="spacingAndGlyphs" fill="#222">50kD</text><text x="31.00" y="95.90" font-size="14.0" font-weight="bold" textLength="8.40" lengthAdjust="spacingAndGlyphs" fill="#222" stroke="#222" stroke-width="0.7">B</text><text x="18.90" y="110.61" font-size="6.6" font-weight="normal" textLength="45.10" lengthAdjust="spacingAndGlyphs" fill="#222">SGI-1776 (µM)</text><text x="5.50" y="121.32" font-size="6.9" font-weight="normal" textLength="58.50" lengthAdjust="spacingAndGlyphs" fill="#222">Histone H3 (Ser10)</text><text x="12.40" y="133.51" font-size="6.9" font-weight="normal" textLength="50.80" lengthAdjust="spacingAndGlyphs" fill="#222">Total Histone H3</text><text x="39.40" y="145.81" font-size="6.9" font-weight="normal" textLength="23.80" lengthAdjust="spacingAndGlyphs" fill="#222">GAPDH</text><text x="75.50" y="111.91" font-size="6.6" font-weight="normal" text-anchor="middle" fill="#222">0</text><text x="81.20" y="111.95" font-size="5.0" font-weight="normal" textLength="16.00" lengthAdjust="spacingAndGlyphs" fill="#222">DMSO</text><text x="102.70" y="111.91" font-size="6.6" font-weight="normal" text-anchor="middle" fill="#222">0.1</text><text x="115.70" y="111.91" font-size="6.6" font-weight="normal" text-anchor="middle" fill="#222">1</text><text x="127.30" y="111.91" font-size="6.6" font-weight="normal" text-anchor="middle" fill="#222">3</text><text x="138.90" y="111.91" font-size="6.6" font-weight="normal" text-anchor="middle" fill="#222">5</text><text x="152.10" y="111.91" font-size="6.6" font-weight="normal" text-anchor="middle" fill="#222">10</text><text x="200.80" y="112.61" font-size="6.6" font-weight="normal" text-anchor="middle" fill="#222">0</text><text x="206.50" y="112.65" font-size="5.0" font-weight="normal" textLength="16.00" lengthAdjust="spacingAndGlyphs" fill="#222">DMSO</text><text x="230.60" y="112.61" font-size="6.6" font-weight="normal" text-anchor="middle" fill="#222">0.1</text><text x="243.30" y="112.61" font-size="6.6" font-weight="normal" text-anchor="middle" fill="#222">1</text><text x="256.30" y="112.61" font-size="6.6" font-weight="normal" text-anchor="middle" fill="#222">3</text><text x="267.90" y="112.61" font-size="6.6" font-weight="normal" text-anchor="middle" fill="#222">5</text><text x="281.30" y="112.61" font-size="6.6" font-weight="normal" text-anchor="middle" fill="#222">10</text><text x="171.00" y="117.98" font-size="6.5" font-weight="normal" textLength="13.80" lengthAdjust="spacingAndGlyphs" fill="#222">20kD</text><text x="171.00" y="129.07" font-size="6.5" font-weight="normal" textLength="13.80" lengthAdjust="spacingAndGlyphs" fill="#222">20kD</text><text x="298.00" y="119.68" font-size="6.5" font-weight="normal" textLength="13.80" lengthAdjust="spacingAndGlyphs" fill="#222">20kD</text><text x="298.00" y="131.28" font-size="6.5" font-weight="normal" textLength="13.80" lengthAdjust="spacingAndGlyphs" fill="#222">20kD</text><text x="30.40" y="178.30" font-size="14.0" font-weight="bold" textLength="8.90" lengthAdjust="spacingAndGlyphs" fill="#222" stroke="#222" stroke-width="0.7">C</text><text x="13.30" y="193.71" font-size="6.6" font-weight="normal" textLength="44.70" lengthAdjust="spacingAndGlyphs" fill="#222">SGI-1776 (µM)</text><text x="18.30" y="206.81" font-size="6.9" font-weight="normal" textLength="40.20" lengthAdjust="spacingAndGlyphs" fill="#222">Bad (Ser112)</text><text x="29.30" y="220.11" font-size="6.9" font-weight="normal" textLength="29.20" lengthAdjust="spacingAndGlyphs" fill="#222">Total Bad</text><text x="34.40" y="236.22" font-size="6.9" font-weight="normal" textLength="24.10" lengthAdjust="spacingAndGlyphs" fill="#222">GAPDH</text><text x="69.50" y="193.81" font-size="6.6" font-weight="normal" text-anchor="middle" fill="#222">0</text><text x="75.00" y="193.85" font-size="5.0" font-weight="normal" textLength="16.00" lengthAdjust="spacingAndGlyphs" fill="#222">DMSO</text><text x="97.30" y="193.81" font-size="6.6" font-weight="normal" text-anchor="middle" fill="#222">0.1</text><text x="110.00" y="193.81" font-size="6.6" font-weight="normal" text-anchor="middle" fill="#222">1</text><text x="123.60" y="193.81" font-size="6.6" font-weight="normal" text-anchor="middle" fill="#222">3</text><text x="136.70" y="193.81" font-size="6.6" font-weight="normal" text-anchor="middle" fill="#222">5</text><text x="148.80" y="193.81" font-size="6.6" font-weight="normal" text-anchor="middle" fill="#222">10</text><text x="196.40" y="194.41" font-size="6.6" font-weight="normal" text-anchor="middle" fill="#222">0</text><text x="202.10" y="194.45" font-size="5.0" font-weight="normal" textLength="16.00" lengthAdjust="spacingAndGlyphs" fill="#222">DMSO</text><text x="225.60" y="194.41" font-size="6.6" font-weight="normal" text-anchor="middle" fill="#222">0.1</text><text x="238.30" y="194.41" font-size="6.6" font-weight="normal" text-anchor="middle" fill="#222">1</text><text x="251.70" y="194.41" font-size="6.6" font-weight="normal" text-anchor="middle" fill="#222">3</text><text x="263.30" y="194.41" font-size="6.6" font-weight="normal" text-anchor="middle" fill="#222">5</text><text x="277.40" y="194.41" font-size="6.6" font-weight="normal" text-anchor="middle" fill="#222">10</text><text x="166.20" y="205.88" font-size="6.5" font-weight="normal" textLength="14.20" lengthAdjust="spacingAndGlyphs" fill="#222">20kD</text><text x="166.20" y="220.47" font-size="6.5" font-weight="normal" textLength="14.20" lengthAdjust="spacingAndGlyphs" fill="#222">20kD</text><text x="293.30" y="203.47" font-size="6.5" font-weight="normal" textLength="14.60" lengthAdjust="spacingAndGlyphs" fill="#222">20kD</text><text x="293.30" y="220.28" font-size="6.5" font-weight="normal" textLength="14.60" lengthAdjust="spacingAndGlyphs" fill="#222">20kD</text><text x="31.00" y="266.10" font-size="14.0" font-weight="bold" textLength="9.00" lengthAdjust="spacingAndGlyphs" fill="#222" stroke="#222" stroke-width="0.7">D</text><text x="14.20" y="282.01" font-size="6.6" font-weight="normal" textLength="45.60" lengthAdjust="spacingAndGlyphs" fill="#222">SGI-1776 (µM)</text><text x="2.60" y="296.81" font-size="6.9" font-weight="normal" textLength="57.20" lengthAdjust="spacingAndGlyphs" fill="#222">4E-BP1 (Thr37/46)</text><text x="19.30" y="316.42" font-size="6.9" font-weight="normal" textLength="40.50" lengthAdjust="spacingAndGlyphs" fill="#222">Total 4E-BP1</text><text x="35.60" y="331.02" font-size="6.9" font-weight="normal" textLength="24.20" lengthAdjust="spacingAndGlyphs" fill="#222">GAPDH</text><text x="68.60" y="281.91" font-size="6.6" font-weight="normal" text-anchor="middle" fill="#222">0</text><text x="75.00" y="281.95" font-size="5.0" font-weight="normal" textLength="16.00" lengthAdjust="spacingAndGlyphs" fill="#222">DMSO</text><text x="97.30" y="281.91" font-size="6.6" font-weight="normal" text-anchor="middle" fill="#222">0.1</text><text x="111.80" y="281.91" font-size="6.6" font-weight="normal" text-anchor="middle" fill="#222">1</text><text x="125.00" y="281.91" font-size="6.6" font-weight="normal" text-anchor="middle" fill="#222">3</text><text x="138.70" y="281.91" font-size="6.6" font-weight="normal" text-anchor="middle" fill="#222">5</text><text x="150.70" y="281.91" font-size="6.6" font-weight="normal" text-anchor="middle" fill="#222">10</text><text x="194.00" y="282.31" font-size="6.6" font-weight="normal" text-anchor="middle" fill="#222">0</text><text x="200.20" y="282.35" font-size="5.0" font-weight="normal" textLength="16.00" lengthAdjust="spacingAndGlyphs" fill="#222">DMSO</text><text x="224.00" y="282.31" font-size="6.6" font-weight="normal" text-anchor="middle" fill="#222">0.1</text><text x="237.10" y="282.31" font-size="6.6" font-weight="normal" text-anchor="middle" fill="#222">1</text><text x="250.00" y="282.31" font-size="6.6" font-weight="normal" text-anchor="middle" fill="#222">3</text><text x="261.00" y="282.31" font-size="6.6" font-weight="normal" text-anchor="middle" fill="#222">5</text><text x="275.10" y="282.31" font-size="6.6" font-weight="normal" text-anchor="middle" fill="#222">10</text><text x="290.50" y="293.47" font-size="6.5" font-weight="normal" textLength="14.60" lengthAdjust="spacingAndGlyphs" fill="#222">20kD</text><text x="290.50" y="309.38" font-size="6.5" font-weight="normal" textLength="14.60" lengthAdjust="spacingAndGlyphs" fill="#222">20kD</text><text x="338.40" y="12.70" font-size="14.0" font-weight="bold" textLength="8.10" lengthAdjust="spacingAndGlyphs" fill="#222" stroke="#222" stroke-width="0.7">E</text><text x="422.00" y="12.82" font-size="9.2" font-weight="bold" textLength="29.00" lengthAdjust="spacingAndGlyphs" fill="#222">JeKo-1</text><text x="361.40" y="39.80" font-size="6.3" font-weight="bold" textLength="8.80" lengthAdjust="spacingAndGlyphs" fill="#222">1.5</text><text x="361.40" y="71.80" font-size="6.3" font-weight="bold" textLength="8.80" lengthAdjust="spacingAndGlyphs" fill="#222">1.0</text><text x="361.40" y="103.80" font-size="6.3" font-weight="bold" textLength="8.80" lengthAdjust="spacingAndGlyphs" fill="#222">0.5</text><text x="361.40" y="135.81" font-size="6.3" font-weight="bold" textLength="8.80" lengthAdjust="spacingAndGlyphs" fill="#222">0.0</text><text x="373.40" y="143.81" font-size="6.3" font-weight="bold" text-anchor="middle" fill="#222">0</text><text x="382.20" y="143.81" font-size="6.3" font-weight="bold" text-anchor="middle" fill="#222">0.1</text><text x="413.60" y="143.81" font-size="6.3" font-weight="bold" text-anchor="middle" fill="#222">1</text><text x="434.80" y="143.81" font-size="6.3" font-weight="bold" text-anchor="middle" fill="#222">3</text><text x="456.00" y="143.81" font-size="6.3" font-weight="bold" text-anchor="middle" fill="#222">5</text><text x="509.00" y="143.81" font-size="6.3" font-weight="bold" text-anchor="middle" fill="#222">10</text><text x="417.0" y="154.22" font-size="6.9" font-weight="bold" textLength="49" lengthAdjust="spacingAndGlyphs" fill="#222">SGI-1776 (<tspan font-weight="normal">µ</tspan>M)</text><text transform="translate(356.3,85.00) rotate(-90)" font-size="7.1" font-weight="bold" text-anchor="middle" textLength="73" lengthAdjust="spacingAndGlyphs" fill="#111">% of Control (DMSO)</text><text x="466.50" y="33.74" font-size="6.4" font-weight="normal" textLength="42.70" lengthAdjust="spacingAndGlyphs" fill="#222">p-c-Myc/c-Myc</text><text x="466.50" y="41.94" font-size="6.4" font-weight="normal" textLength="22.50" lengthAdjust="spacingAndGlyphs" fill="#222">p-H3/H3</text><text x="466.50" y="50.34" font-size="6.4" font-weight="normal" textLength="30.00" lengthAdjust="spacingAndGlyphs" fill="#222">p-Bad/Bad</text><text x="466.50" y="58.74" font-size="6.4" font-weight="normal" textLength="53.00" lengthAdjust="spacingAndGlyphs" fill="#222">p-4E-BP1/4E-BP1</text><text x="338.70" y="183.10" font-size="14.0" font-weight="bold" textLength="7.20" lengthAdjust="spacingAndGlyphs" fill="#222" stroke="#222" stroke-width="0.7">F</text><text x="425.80" y="194.98" font-size="8.8" font-weight="bold" textLength="20.40" lengthAdjust="spacingAndGlyphs" fill="#222">Mino</text><text x="361.40" y="229.51" font-size="6.3" font-weight="bold" textLength="8.80" lengthAdjust="spacingAndGlyphs" fill="#222">1.5</text><text x="361.40" y="262.00" font-size="6.3" font-weight="bold" textLength="8.80" lengthAdjust="spacingAndGlyphs" fill="#222">1.0</text><text x="361.40" y="294.50" font-size="6.3" font-weight="bold" textLength="8.80" lengthAdjust="spacingAndGlyphs" fill="#222">0.5</text><text x="361.40" y="327.00" font-size="6.3" font-weight="bold" textLength="8.80" lengthAdjust="spacingAndGlyphs" fill="#222">0.0</text><text x="373.40" y="335.00" font-size="6.3" font-weight="bold" text-anchor="middle" fill="#222">0</text><text x="382.20" y="335.00" font-size="6.3" font-weight="bold" text-anchor="middle" fill="#222">0.1</text><text x="413.60" y="335.00" font-size="6.3" font-weight="bold" text-anchor="middle" fill="#222">1</text><text x="434.80" y="335.00" font-size="6.3" font-weight="bold" text-anchor="middle" fill="#222">3</text><text x="456.00" y="335.00" font-size="6.3" font-weight="bold" text-anchor="middle" fill="#222">5</text><text x="509.00" y="335.00" font-size="6.3" font-weight="bold" text-anchor="middle" fill="#222">10</text><text x="417.0" y="345.62" font-size="6.9" font-weight="bold" textLength="49" lengthAdjust="spacingAndGlyphs" fill="#222">SGI-1776 (<tspan font-weight="normal">µ</tspan>M)</text><text transform="translate(356.3,276.90) rotate(-90)" font-size="7.1" font-weight="bold" text-anchor="middle" textLength="73" lengthAdjust="spacingAndGlyphs" fill="#111">% of Control (DMSO)</text><text x="465.20" y="209.14" font-size="6.4" font-weight="normal" textLength="42.70" lengthAdjust="spacingAndGlyphs" fill="#222">p-c-Myc/c-Myc</text><text x="465.20" y="217.44" font-size="6.4" font-weight="normal" textLength="22.50" lengthAdjust="spacingAndGlyphs" fill="#222">p-H3/H3</text><text x="465.20" y="226.04" font-size="6.4" font-weight="normal" textLength="30.00" lengthAdjust="spacingAndGlyphs" fill="#222">p-Bad/Bad</text><text x="465.20" y="234.54" font-size="6.4" font-weight="normal" textLength="53.00" lengthAdjust="spacingAndGlyphs" fill="#222">p-4E-BP1/4E-BP1</text></g>
</g>
</svg>
</body></html>
